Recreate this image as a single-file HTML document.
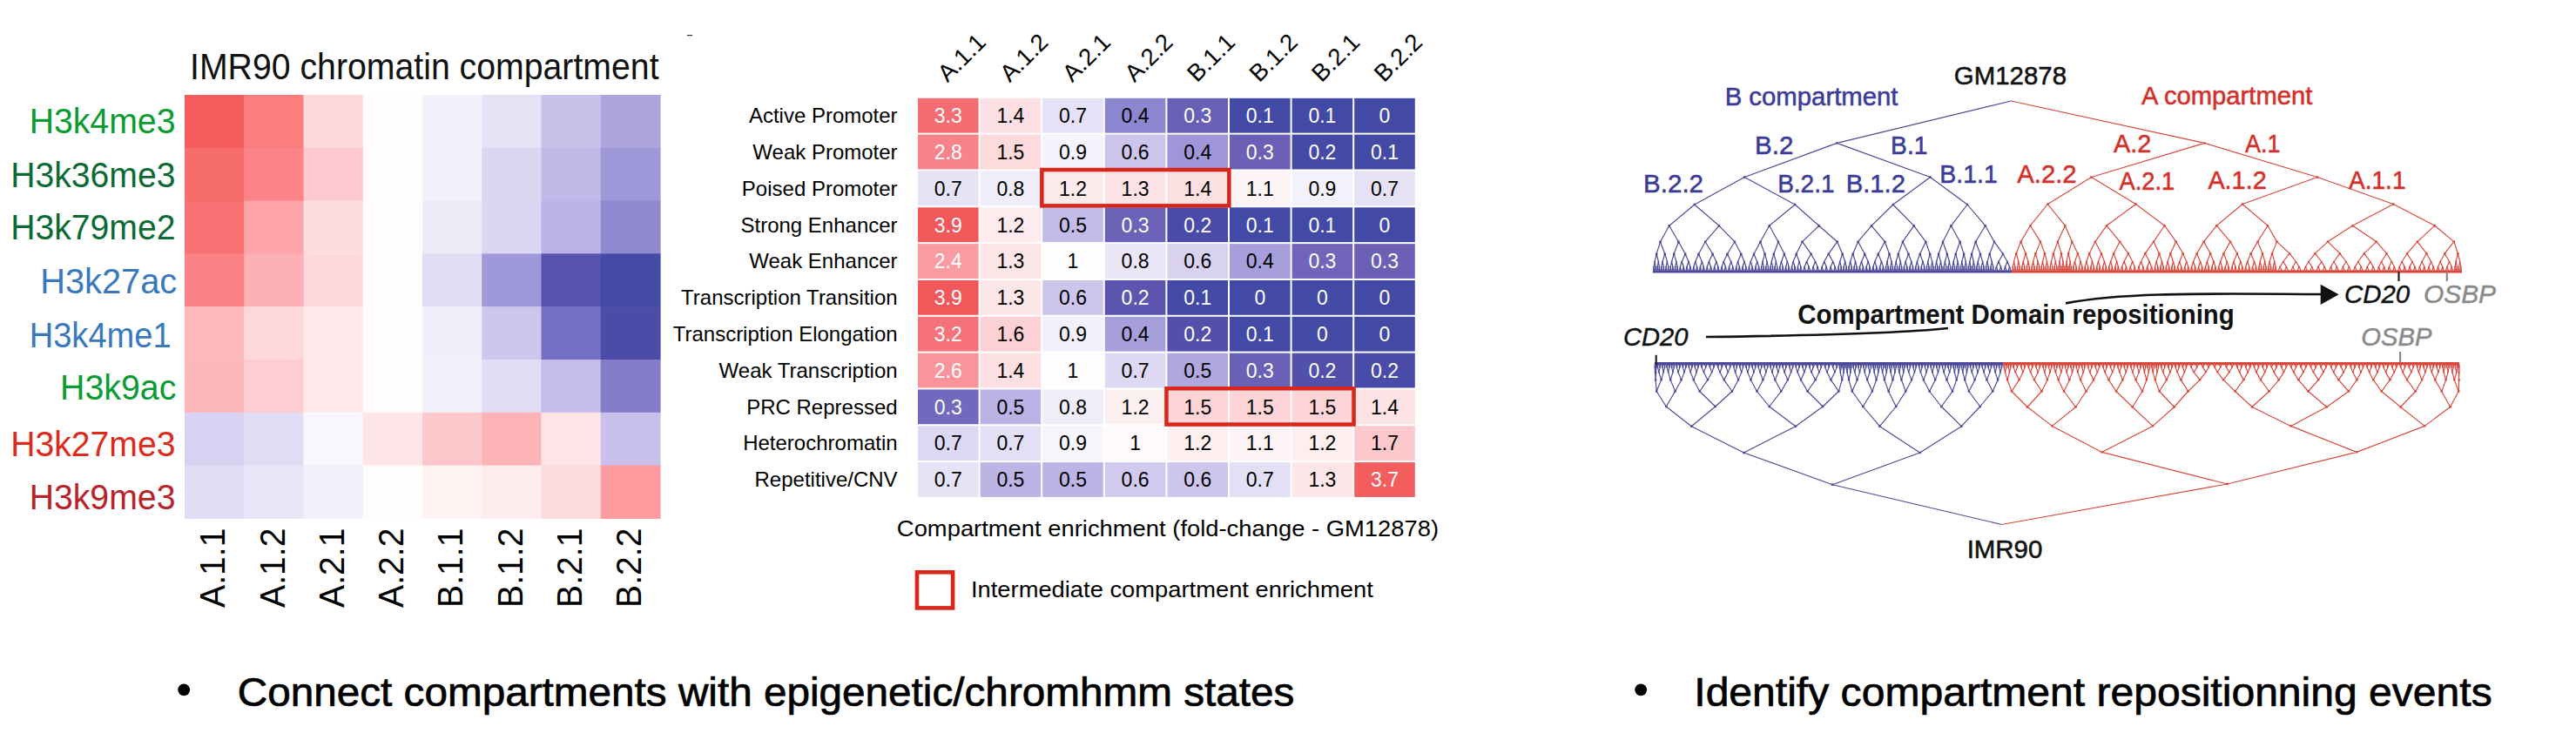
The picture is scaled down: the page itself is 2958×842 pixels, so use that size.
<!DOCTYPE html><html><head><meta charset="utf-8"><style>html,body{margin:0;padding:0;background:#fff;overflow:hidden;}svg{display:block;}text{font-family:"Liberation Sans",sans-serif;}</style></head><body>
<svg width="2958" height="842" viewBox="0 0 2958 842">
<rect x="0" y="0" width="2958" height="842" fill="#ffffff"/>
<rect x="212.00" y="109.00" width="68.85" height="61.40" fill="#f35b5c"/>
<rect x="280.25" y="109.00" width="68.85" height="61.40" fill="#fb7d7e"/>
<rect x="348.50" y="109.00" width="68.85" height="61.40" fill="#fdd9dc"/>
<rect x="416.75" y="109.00" width="68.85" height="61.40" fill="#fffcfd"/>
<rect x="485.00" y="109.00" width="68.85" height="61.40" fill="#f2f0fb"/>
<rect x="553.25" y="109.00" width="68.85" height="61.40" fill="#e6e2f6"/>
<rect x="621.50" y="109.00" width="68.85" height="61.40" fill="#c8c1ea"/>
<rect x="689.75" y="109.00" width="68.85" height="61.40" fill="#aea5de"/>
<rect x="212.00" y="169.80" width="68.85" height="61.40" fill="#f76c6d"/>
<rect x="280.25" y="169.80" width="68.85" height="61.40" fill="#fc8489"/>
<rect x="348.50" y="169.80" width="68.85" height="61.40" fill="#fdc9ce"/>
<rect x="416.75" y="169.80" width="68.85" height="61.40" fill="#fffcfd"/>
<rect x="485.00" y="169.80" width="68.85" height="61.40" fill="#f2f0fb"/>
<rect x="553.25" y="169.80" width="68.85" height="61.40" fill="#dbd6f2"/>
<rect x="621.50" y="169.80" width="68.85" height="61.40" fill="#c0b8e6"/>
<rect x="689.75" y="169.80" width="68.85" height="61.40" fill="#9e97d8"/>
<rect x="212.00" y="230.60" width="68.85" height="61.40" fill="#f77173"/>
<rect x="280.25" y="230.60" width="68.85" height="61.40" fill="#fca4aa"/>
<rect x="348.50" y="230.60" width="68.85" height="61.40" fill="#fddde0"/>
<rect x="416.75" y="230.60" width="68.85" height="61.40" fill="#fffcfd"/>
<rect x="485.00" y="230.60" width="68.85" height="61.40" fill="#edeaf8"/>
<rect x="553.25" y="230.60" width="68.85" height="61.40" fill="#dbd6f2"/>
<rect x="621.50" y="230.60" width="68.85" height="61.40" fill="#bbb3e5"/>
<rect x="689.75" y="230.60" width="68.85" height="61.40" fill="#9089cf"/>
<rect x="212.00" y="291.40" width="68.85" height="61.40" fill="#fc8184"/>
<rect x="280.25" y="291.40" width="68.85" height="61.40" fill="#fdb0b5"/>
<rect x="348.50" y="291.40" width="68.85" height="61.40" fill="#fdd8dc"/>
<rect x="416.75" y="291.40" width="68.85" height="61.40" fill="#fffcfd"/>
<rect x="485.00" y="291.40" width="68.85" height="61.40" fill="#e1ddf5"/>
<rect x="553.25" y="291.40" width="68.85" height="61.40" fill="#a099d9"/>
<rect x="621.50" y="291.40" width="68.85" height="61.40" fill="#5653ad"/>
<rect x="689.75" y="291.40" width="68.85" height="61.40" fill="#434ba6"/>
<rect x="212.00" y="352.20" width="68.85" height="61.40" fill="#feb9bd"/>
<rect x="280.25" y="352.20" width="68.85" height="61.40" fill="#fdd8db"/>
<rect x="348.50" y="352.20" width="68.85" height="61.40" fill="#fee8ea"/>
<rect x="416.75" y="352.20" width="68.85" height="61.40" fill="#fffcfd"/>
<rect x="485.00" y="352.20" width="68.85" height="61.40" fill="#f0eefb"/>
<rect x="553.25" y="352.20" width="68.85" height="61.40" fill="#cdc6ed"/>
<rect x="621.50" y="352.20" width="68.85" height="61.40" fill="#7670c4"/>
<rect x="689.75" y="352.20" width="68.85" height="61.40" fill="#4a4da8"/>
<rect x="212.00" y="413.00" width="68.85" height="61.40" fill="#fdb6b9"/>
<rect x="280.25" y="413.00" width="68.85" height="61.40" fill="#fdcdd1"/>
<rect x="348.50" y="413.00" width="68.85" height="61.40" fill="#fee8ea"/>
<rect x="416.75" y="413.00" width="68.85" height="61.40" fill="#fffcfd"/>
<rect x="485.00" y="413.00" width="68.85" height="61.40" fill="#f2f0fb"/>
<rect x="553.25" y="413.00" width="68.85" height="61.40" fill="#e1ddf5"/>
<rect x="621.50" y="413.00" width="68.85" height="61.40" fill="#c4bcea"/>
<rect x="689.75" y="413.00" width="68.85" height="61.40" fill="#857dc9"/>
<rect x="212.00" y="473.80" width="68.85" height="61.40" fill="#d9d1f1"/>
<rect x="280.25" y="473.80" width="68.85" height="61.40" fill="#e1ddf5"/>
<rect x="348.50" y="473.80" width="68.85" height="61.40" fill="#f8f7fd"/>
<rect x="416.75" y="473.80" width="68.85" height="61.40" fill="#fee6e8"/>
<rect x="485.00" y="473.80" width="68.85" height="61.40" fill="#fdc8cc"/>
<rect x="553.25" y="473.80" width="68.85" height="61.40" fill="#fdb4b7"/>
<rect x="621.50" y="473.80" width="68.85" height="61.40" fill="#fee6e8"/>
<rect x="689.75" y="473.80" width="68.85" height="61.40" fill="#c9c1ec"/>
<rect x="212.00" y="534.60" width="68.85" height="61.40" fill="#e1ddf5"/>
<rect x="280.25" y="534.60" width="68.85" height="61.40" fill="#e9e5f7"/>
<rect x="348.50" y="534.60" width="68.85" height="61.40" fill="#f2f0fb"/>
<rect x="416.75" y="534.60" width="68.85" height="61.40" fill="#fffcfd"/>
<rect x="485.00" y="534.60" width="68.85" height="61.40" fill="#fff3f4"/>
<rect x="553.25" y="534.60" width="68.85" height="61.40" fill="#feecee"/>
<rect x="621.50" y="534.60" width="68.85" height="61.40" fill="#fddcdf"/>
<rect x="689.75" y="534.60" width="68.85" height="61.40" fill="#fd9b9e"/>
<text x="218.04" y="91.20" font-size="42" fill="#111" textLength="538.51" lengthAdjust="spacingAndGlyphs">IMR90 chromatin compartment</text>
<text x="33.65" y="153.10" font-size="40" fill="#0a9b32" textLength="167.82" lengthAdjust="spacingAndGlyphs">H3k4me3</text>
<text x="12.26" y="214.70" font-size="40" fill="#0b6a34" textLength="189.24" lengthAdjust="spacingAndGlyphs">H3k36me3</text>
<text x="12.26" y="275.40" font-size="40" fill="#0b6a34" textLength="189.24" lengthAdjust="spacingAndGlyphs">H3k79me2</text>
<text x="46.22" y="336.50" font-size="40" fill="#3a78be" textLength="156.95" lengthAdjust="spacingAndGlyphs">H3k27ac</text>
<text x="33.73" y="399.00" font-size="40" fill="#3a78be" textLength="162.90" lengthAdjust="spacingAndGlyphs">H3k4me1</text>
<text x="69.05" y="458.90" font-size="40" fill="#0a9b32" textLength="133.26" lengthAdjust="spacingAndGlyphs">H3k9ac</text>
<text x="12.26" y="523.80" font-size="40" fill="#dd2a1a" textLength="189.24" lengthAdjust="spacingAndGlyphs">H3k27me3</text>
<text x="33.65" y="584.70" font-size="40" fill="#b8232a" textLength="167.82" lengthAdjust="spacingAndGlyphs">H3k9me3</text>
<text transform="translate(258.4,606.6) rotate(-90)" font-size="40" fill="#000" text-anchor="end" textLength="91.3" lengthAdjust="spacingAndGlyphs">A.1.1</text>
<text transform="translate(326.7,606.6) rotate(-90)" font-size="40" fill="#000" text-anchor="end" textLength="91.3" lengthAdjust="spacingAndGlyphs">A.1.2</text>
<text transform="translate(394.9,606.6) rotate(-90)" font-size="40" fill="#000" text-anchor="end" textLength="91.3" lengthAdjust="spacingAndGlyphs">A.2.1</text>
<text transform="translate(463.2,606.6) rotate(-90)" font-size="40" fill="#000" text-anchor="end" textLength="91.3" lengthAdjust="spacingAndGlyphs">A.2.2</text>
<text transform="translate(531.4,606.6) rotate(-90)" font-size="40" fill="#000" text-anchor="end" textLength="91.3" lengthAdjust="spacingAndGlyphs">B.1.1</text>
<text transform="translate(599.7,606.6) rotate(-90)" font-size="40" fill="#000" text-anchor="end" textLength="91.3" lengthAdjust="spacingAndGlyphs">B.1.2</text>
<text transform="translate(667.9,606.6) rotate(-90)" font-size="40" fill="#000" text-anchor="end" textLength="91.3" lengthAdjust="spacingAndGlyphs">B.2.1</text>
<text transform="translate(736.2,606.6) rotate(-90)" font-size="40" fill="#000" text-anchor="end" textLength="91.3" lengthAdjust="spacingAndGlyphs">B.2.2</text>
<rect x="1054.00" y="112.80" width="69.60" height="39.83" fill="#f36d72"/>
<rect x="1125.60" y="112.80" width="69.60" height="39.83" fill="#fde0e3"/>
<rect x="1197.20" y="112.80" width="69.60" height="39.83" fill="#e6e1f6"/>
<rect x="1268.80" y="112.80" width="69.60" height="39.83" fill="#8c85cf"/>
<rect x="1340.40" y="112.80" width="69.60" height="39.83" fill="#6a5fb6"/>
<rect x="1412.00" y="112.80" width="69.60" height="39.83" fill="#424aa6"/>
<rect x="1483.60" y="112.80" width="69.60" height="39.83" fill="#424aa6"/>
<rect x="1555.20" y="112.80" width="69.60" height="39.83" fill="#424aa6"/>
<rect x="1054.00" y="154.63" width="69.60" height="39.83" fill="#f6848a"/>
<rect x="1125.60" y="154.63" width="69.60" height="39.83" fill="#fddadc"/>
<rect x="1197.20" y="154.63" width="69.60" height="39.83" fill="#f5f3fb"/>
<rect x="1268.80" y="154.63" width="69.60" height="39.83" fill="#cdc5ec"/>
<rect x="1340.40" y="154.63" width="69.60" height="39.83" fill="#9e96d8"/>
<rect x="1412.00" y="154.63" width="69.60" height="39.83" fill="#6b60b6"/>
<rect x="1483.60" y="154.63" width="69.60" height="39.83" fill="#444aa6"/>
<rect x="1555.20" y="154.63" width="69.60" height="39.83" fill="#424aa6"/>
<rect x="1054.00" y="196.46" width="69.60" height="39.83" fill="#e7e3f5"/>
<rect x="1125.60" y="196.46" width="69.60" height="39.83" fill="#efedf9"/>
<rect x="1197.20" y="196.46" width="69.60" height="39.83" fill="#fdeaec"/>
<rect x="1268.80" y="196.46" width="69.60" height="39.83" fill="#fde3e6"/>
<rect x="1340.40" y="196.46" width="69.60" height="39.83" fill="#fde0e2"/>
<rect x="1412.00" y="196.46" width="69.60" height="39.83" fill="#fdf5f5"/>
<rect x="1483.60" y="196.46" width="69.60" height="39.83" fill="#f3f1fb"/>
<rect x="1555.20" y="196.46" width="69.60" height="39.83" fill="#e6e1f4"/>
<rect x="1054.00" y="238.29" width="69.60" height="39.83" fill="#f25759"/>
<rect x="1125.60" y="238.29" width="69.60" height="39.83" fill="#fdebed"/>
<rect x="1197.20" y="238.29" width="69.60" height="39.83" fill="#c3bbea"/>
<rect x="1268.80" y="238.29" width="69.60" height="39.83" fill="#6c62b8"/>
<rect x="1340.40" y="238.29" width="69.60" height="39.83" fill="#4a4aa8"/>
<rect x="1412.00" y="238.29" width="69.60" height="39.83" fill="#424aa6"/>
<rect x="1483.60" y="238.29" width="69.60" height="39.83" fill="#424aa6"/>
<rect x="1555.20" y="238.29" width="69.60" height="39.83" fill="#424aa6"/>
<rect x="1054.00" y="280.12" width="69.60" height="39.83" fill="#f99ba0"/>
<rect x="1125.60" y="280.12" width="69.60" height="39.83" fill="#fde6e8"/>
<rect x="1197.20" y="280.12" width="69.60" height="39.83" fill="#fdfcfe"/>
<rect x="1268.80" y="280.12" width="69.60" height="39.83" fill="#ebe6f6"/>
<rect x="1340.40" y="280.12" width="69.60" height="39.83" fill="#d9d1f0"/>
<rect x="1412.00" y="280.12" width="69.60" height="39.83" fill="#a69fdc"/>
<rect x="1483.60" y="280.12" width="69.60" height="39.83" fill="#7065bb"/>
<rect x="1555.20" y="280.12" width="69.60" height="39.83" fill="#6b60b6"/>
<rect x="1054.00" y="321.95" width="69.60" height="39.83" fill="#f25759"/>
<rect x="1125.60" y="321.95" width="69.60" height="39.83" fill="#fde6e8"/>
<rect x="1197.20" y="321.95" width="69.60" height="39.83" fill="#cdc5ec"/>
<rect x="1268.80" y="321.95" width="69.60" height="39.83" fill="#5d56b0"/>
<rect x="1340.40" y="321.95" width="69.60" height="39.83" fill="#424aa6"/>
<rect x="1412.00" y="321.95" width="69.60" height="39.83" fill="#424aa6"/>
<rect x="1483.60" y="321.95" width="69.60" height="39.83" fill="#424aa6"/>
<rect x="1555.20" y="321.95" width="69.60" height="39.83" fill="#424aa6"/>
<rect x="1054.00" y="363.78" width="69.60" height="39.83" fill="#f57378"/>
<rect x="1125.60" y="363.78" width="69.60" height="39.83" fill="#fcd0d4"/>
<rect x="1197.20" y="363.78" width="69.60" height="39.83" fill="#f3f0fb"/>
<rect x="1268.80" y="363.78" width="69.60" height="39.83" fill="#a69fdc"/>
<rect x="1340.40" y="363.78" width="69.60" height="39.83" fill="#534fab"/>
<rect x="1412.00" y="363.78" width="69.60" height="39.83" fill="#424aa6"/>
<rect x="1483.60" y="363.78" width="69.60" height="39.83" fill="#424aa6"/>
<rect x="1555.20" y="363.78" width="69.60" height="39.83" fill="#424aa6"/>
<rect x="1054.00" y="405.61" width="69.60" height="39.83" fill="#f8949a"/>
<rect x="1125.60" y="405.61" width="69.60" height="39.83" fill="#fde0e2"/>
<rect x="1197.20" y="405.61" width="69.60" height="39.83" fill="#fefcfd"/>
<rect x="1268.80" y="405.61" width="69.60" height="39.83" fill="#ddd8f3"/>
<rect x="1340.40" y="405.61" width="69.60" height="39.83" fill="#afa7de"/>
<rect x="1412.00" y="405.61" width="69.60" height="39.83" fill="#6a60b6"/>
<rect x="1483.60" y="405.61" width="69.60" height="39.83" fill="#5250ab"/>
<rect x="1555.20" y="405.61" width="69.60" height="39.83" fill="#4a4ba8"/>
<rect x="1054.00" y="447.44" width="69.60" height="39.83" fill="#7268bd"/>
<rect x="1125.60" y="447.44" width="69.60" height="39.83" fill="#bbb2e6"/>
<rect x="1197.20" y="447.44" width="69.60" height="39.83" fill="#efedf9"/>
<rect x="1268.80" y="447.44" width="69.60" height="39.83" fill="#fdf0f1"/>
<rect x="1340.40" y="447.44" width="69.60" height="39.83" fill="#fdd5d9"/>
<rect x="1412.00" y="447.44" width="69.60" height="39.83" fill="#fdd5d9"/>
<rect x="1483.60" y="447.44" width="69.60" height="39.83" fill="#fdd5d9"/>
<rect x="1555.20" y="447.44" width="69.60" height="39.83" fill="#fde3e6"/>
<rect x="1054.00" y="489.27" width="69.60" height="39.83" fill="#ddd8f3"/>
<rect x="1125.60" y="489.27" width="69.60" height="39.83" fill="#e3dff5"/>
<rect x="1197.20" y="489.27" width="69.60" height="39.83" fill="#f6f5fb"/>
<rect x="1268.80" y="489.27" width="69.60" height="39.83" fill="#fef9fa"/>
<rect x="1340.40" y="489.27" width="69.60" height="39.83" fill="#fdeff0"/>
<rect x="1412.00" y="489.27" width="69.60" height="39.83" fill="#fef4f5"/>
<rect x="1483.60" y="489.27" width="69.60" height="39.83" fill="#fdeff0"/>
<rect x="1555.20" y="489.27" width="69.60" height="39.83" fill="#fcc8cc"/>
<rect x="1054.00" y="531.10" width="69.60" height="39.83" fill="#e7e3f6"/>
<rect x="1125.60" y="531.10" width="69.60" height="39.83" fill="#bdb4e6"/>
<rect x="1197.20" y="531.10" width="69.60" height="39.83" fill="#bdb4e6"/>
<rect x="1268.80" y="531.10" width="69.60" height="39.83" fill="#d2caee"/>
<rect x="1340.40" y="531.10" width="69.60" height="39.83" fill="#cfc6ed"/>
<rect x="1412.00" y="531.10" width="69.60" height="39.83" fill="#e3dff5"/>
<rect x="1483.60" y="531.10" width="69.60" height="39.83" fill="#fde6e8"/>
<rect x="1555.20" y="531.10" width="69.60" height="39.83" fill="#f45d5e"/>
<text x="1088.80" y="141.02" font-size="23" fill="#fff" text-anchor="middle">3.3</text>
<text x="1160.40" y="141.02" font-size="23" fill="#000" text-anchor="middle">1.4</text>
<text x="1232.00" y="141.02" font-size="23" fill="#000" text-anchor="middle">0.7</text>
<text x="1303.60" y="141.02" font-size="23" fill="#000" text-anchor="middle">0.4</text>
<text x="1375.20" y="141.02" font-size="23" fill="#fff" text-anchor="middle">0.3</text>
<text x="1446.80" y="141.02" font-size="23" fill="#fff" text-anchor="middle">0.1</text>
<text x="1518.40" y="141.02" font-size="23" fill="#fff" text-anchor="middle">0.1</text>
<text x="1590.00" y="141.02" font-size="23" fill="#fff" text-anchor="middle">0</text>
<text x="1088.80" y="182.84" font-size="23" fill="#fff" text-anchor="middle">2.8</text>
<text x="1160.40" y="182.84" font-size="23" fill="#000" text-anchor="middle">1.5</text>
<text x="1232.00" y="182.84" font-size="23" fill="#000" text-anchor="middle">0.9</text>
<text x="1303.60" y="182.84" font-size="23" fill="#000" text-anchor="middle">0.6</text>
<text x="1375.20" y="182.84" font-size="23" fill="#000" text-anchor="middle">0.4</text>
<text x="1446.80" y="182.84" font-size="23" fill="#fff" text-anchor="middle">0.3</text>
<text x="1518.40" y="182.84" font-size="23" fill="#fff" text-anchor="middle">0.2</text>
<text x="1590.00" y="182.84" font-size="23" fill="#fff" text-anchor="middle">0.1</text>
<text x="1088.80" y="224.67" font-size="23" fill="#000" text-anchor="middle">0.7</text>
<text x="1160.40" y="224.67" font-size="23" fill="#000" text-anchor="middle">0.8</text>
<text x="1232.00" y="224.67" font-size="23" fill="#000" text-anchor="middle">1.2</text>
<text x="1303.60" y="224.67" font-size="23" fill="#000" text-anchor="middle">1.3</text>
<text x="1375.20" y="224.67" font-size="23" fill="#000" text-anchor="middle">1.4</text>
<text x="1446.80" y="224.67" font-size="23" fill="#000" text-anchor="middle">1.1</text>
<text x="1518.40" y="224.67" font-size="23" fill="#000" text-anchor="middle">0.9</text>
<text x="1590.00" y="224.67" font-size="23" fill="#000" text-anchor="middle">0.7</text>
<text x="1088.80" y="266.50" font-size="23" fill="#fff" text-anchor="middle">3.9</text>
<text x="1160.40" y="266.50" font-size="23" fill="#000" text-anchor="middle">1.2</text>
<text x="1232.00" y="266.50" font-size="23" fill="#000" text-anchor="middle">0.5</text>
<text x="1303.60" y="266.50" font-size="23" fill="#fff" text-anchor="middle">0.3</text>
<text x="1375.20" y="266.50" font-size="23" fill="#fff" text-anchor="middle">0.2</text>
<text x="1446.80" y="266.50" font-size="23" fill="#fff" text-anchor="middle">0.1</text>
<text x="1518.40" y="266.50" font-size="23" fill="#fff" text-anchor="middle">0.1</text>
<text x="1590.00" y="266.50" font-size="23" fill="#fff" text-anchor="middle">0</text>
<text x="1088.80" y="308.34" font-size="23" fill="#fff" text-anchor="middle">2.4</text>
<text x="1160.40" y="308.34" font-size="23" fill="#000" text-anchor="middle">1.3</text>
<text x="1232.00" y="308.34" font-size="23" fill="#000" text-anchor="middle">1</text>
<text x="1303.60" y="308.34" font-size="23" fill="#000" text-anchor="middle">0.8</text>
<text x="1375.20" y="308.34" font-size="23" fill="#000" text-anchor="middle">0.6</text>
<text x="1446.80" y="308.34" font-size="23" fill="#000" text-anchor="middle">0.4</text>
<text x="1518.40" y="308.34" font-size="23" fill="#fff" text-anchor="middle">0.3</text>
<text x="1590.00" y="308.34" font-size="23" fill="#fff" text-anchor="middle">0.3</text>
<text x="1088.80" y="350.17" font-size="23" fill="#fff" text-anchor="middle">3.9</text>
<text x="1160.40" y="350.17" font-size="23" fill="#000" text-anchor="middle">1.3</text>
<text x="1232.00" y="350.17" font-size="23" fill="#000" text-anchor="middle">0.6</text>
<text x="1303.60" y="350.17" font-size="23" fill="#fff" text-anchor="middle">0.2</text>
<text x="1375.20" y="350.17" font-size="23" fill="#fff" text-anchor="middle">0.1</text>
<text x="1446.80" y="350.17" font-size="23" fill="#fff" text-anchor="middle">0</text>
<text x="1518.40" y="350.17" font-size="23" fill="#fff" text-anchor="middle">0</text>
<text x="1590.00" y="350.17" font-size="23" fill="#fff" text-anchor="middle">0</text>
<text x="1088.80" y="392.00" font-size="23" fill="#fff" text-anchor="middle">3.2</text>
<text x="1160.40" y="392.00" font-size="23" fill="#000" text-anchor="middle">1.6</text>
<text x="1232.00" y="392.00" font-size="23" fill="#000" text-anchor="middle">0.9</text>
<text x="1303.60" y="392.00" font-size="23" fill="#000" text-anchor="middle">0.4</text>
<text x="1375.20" y="392.00" font-size="23" fill="#fff" text-anchor="middle">0.2</text>
<text x="1446.80" y="392.00" font-size="23" fill="#fff" text-anchor="middle">0.1</text>
<text x="1518.40" y="392.00" font-size="23" fill="#fff" text-anchor="middle">0</text>
<text x="1590.00" y="392.00" font-size="23" fill="#fff" text-anchor="middle">0</text>
<text x="1088.80" y="433.83" font-size="23" fill="#fff" text-anchor="middle">2.6</text>
<text x="1160.40" y="433.83" font-size="23" fill="#000" text-anchor="middle">1.4</text>
<text x="1232.00" y="433.83" font-size="23" fill="#000" text-anchor="middle">1</text>
<text x="1303.60" y="433.83" font-size="23" fill="#000" text-anchor="middle">0.7</text>
<text x="1375.20" y="433.83" font-size="23" fill="#000" text-anchor="middle">0.5</text>
<text x="1446.80" y="433.83" font-size="23" fill="#fff" text-anchor="middle">0.3</text>
<text x="1518.40" y="433.83" font-size="23" fill="#fff" text-anchor="middle">0.2</text>
<text x="1590.00" y="433.83" font-size="23" fill="#fff" text-anchor="middle">0.2</text>
<text x="1088.80" y="475.66" font-size="23" fill="#fff" text-anchor="middle">0.3</text>
<text x="1160.40" y="475.66" font-size="23" fill="#000" text-anchor="middle">0.5</text>
<text x="1232.00" y="475.66" font-size="23" fill="#000" text-anchor="middle">0.8</text>
<text x="1303.60" y="475.66" font-size="23" fill="#000" text-anchor="middle">1.2</text>
<text x="1375.20" y="475.66" font-size="23" fill="#000" text-anchor="middle">1.5</text>
<text x="1446.80" y="475.66" font-size="23" fill="#000" text-anchor="middle">1.5</text>
<text x="1518.40" y="475.66" font-size="23" fill="#000" text-anchor="middle">1.5</text>
<text x="1590.00" y="475.66" font-size="23" fill="#000" text-anchor="middle">1.4</text>
<text x="1088.80" y="517.49" font-size="23" fill="#000" text-anchor="middle">0.7</text>
<text x="1160.40" y="517.49" font-size="23" fill="#000" text-anchor="middle">0.7</text>
<text x="1232.00" y="517.49" font-size="23" fill="#000" text-anchor="middle">0.9</text>
<text x="1303.60" y="517.49" font-size="23" fill="#000" text-anchor="middle">1</text>
<text x="1375.20" y="517.49" font-size="23" fill="#000" text-anchor="middle">1.2</text>
<text x="1446.80" y="517.49" font-size="23" fill="#000" text-anchor="middle">1.1</text>
<text x="1518.40" y="517.49" font-size="23" fill="#000" text-anchor="middle">1.2</text>
<text x="1590.00" y="517.49" font-size="23" fill="#000" text-anchor="middle">1.7</text>
<text x="1088.80" y="559.31" font-size="23" fill="#000" text-anchor="middle">0.7</text>
<text x="1160.40" y="559.31" font-size="23" fill="#000" text-anchor="middle">0.5</text>
<text x="1232.00" y="559.31" font-size="23" fill="#000" text-anchor="middle">0.5</text>
<text x="1303.60" y="559.31" font-size="23" fill="#000" text-anchor="middle">0.6</text>
<text x="1375.20" y="559.31" font-size="23" fill="#000" text-anchor="middle">0.6</text>
<text x="1446.80" y="559.31" font-size="23" fill="#000" text-anchor="middle">0.7</text>
<text x="1518.40" y="559.31" font-size="23" fill="#000" text-anchor="middle">1.3</text>
<text x="1590.00" y="559.31" font-size="23" fill="#fff" text-anchor="middle">3.7</text>
<text x="1030.60" y="141.02" font-size="24" fill="#000" text-anchor="end">Active Promoter</text>
<text x="1030.60" y="182.84" font-size="24" fill="#000" text-anchor="end">Weak Promoter</text>
<text x="1030.60" y="224.67" font-size="24" fill="#000" text-anchor="end">Poised Promoter</text>
<text x="1030.60" y="266.50" font-size="24" fill="#000" text-anchor="end">Strong Enhancer</text>
<text x="1030.60" y="308.34" font-size="24" fill="#000" text-anchor="end">Weak Enhancer</text>
<text x="1030.60" y="350.17" font-size="24" fill="#000" text-anchor="end">Transcription Transition</text>
<text x="1030.60" y="392.00" font-size="24" fill="#000" text-anchor="end">Transcription Elongation</text>
<text x="1030.60" y="433.83" font-size="24" fill="#000" text-anchor="end">Weak Transcription</text>
<text x="1030.60" y="475.66" font-size="24" fill="#000" text-anchor="end">PRC Repressed</text>
<text x="1030.60" y="517.49" font-size="24" fill="#000" text-anchor="end">Heterochromatin</text>
<text x="1030.60" y="559.31" font-size="24" fill="#000" text-anchor="end">Repetitive/CNV</text>
<text transform="translate(1088.0,95.6) rotate(-45)" font-size="27.6" fill="#000">A.1.1</text>
<text transform="translate(1159.6,95.6) rotate(-45)" font-size="27.6" fill="#000">A.1.2</text>
<text transform="translate(1231.2,95.6) rotate(-45)" font-size="27.6" fill="#000">A.2.1</text>
<text transform="translate(1302.8,95.6) rotate(-45)" font-size="27.6" fill="#000">A.2.2</text>
<text transform="translate(1374.4,95.6) rotate(-45)" font-size="27.6" fill="#000">B.1.1</text>
<text transform="translate(1446.0,95.6) rotate(-45)" font-size="27.6" fill="#000">B.1.2</text>
<text transform="translate(1517.6,95.6) rotate(-45)" font-size="27.6" fill="#000">B.2.1</text>
<text transform="translate(1589.2,95.6) rotate(-45)" font-size="27.6" fill="#000">B.2.2</text>
<rect x="1196.35" y="195.05" width="215" height="41.3" fill="none" stroke="#d9261b" stroke-width="4.5"/>
<rect x="1339.45" y="446.25" width="215.1" height="41.3" fill="none" stroke="#d9261b" stroke-width="4.5"/>
<text x="1029.89" y="616.00" font-size="25.5" fill="#000" textLength="622.18" lengthAdjust="spacingAndGlyphs">Compartment enrichment (fold-change - GM12878)</text>
<rect x="1053" y="657.3" width="41.1" height="41.1" fill="none" stroke="#d9261b" stroke-width="4.6"/>
<text x="1114.94" y="685.80" font-size="26.5" fill="#000" textLength="461.82" lengthAdjust="spacingAndGlyphs">Intermediate compartment enrichment</text>
<rect x="789" y="40" width="6" height="1.2" fill="#333"/>
<defs><filter id="soft" x="-2%" y="-2%" width="104%" height="104%"><feGaussianBlur stdDeviation="0.35"/></filter></defs>
<g filter="url(#soft)">
<path d="M2309.4 116.0L2109.3 164.4M2109.3 164.4L2003.2 203.5M2109.3 164.4L2216.5 203.5M2003.2 203.5L1945.8 235.0M2003.2 203.5L2061.2 235.0M2216.5 203.5L2173.8 235.0M2216.5 203.5L2259.1 235.0M1945.8 235.0L1916.7 259.3M1945.8 235.0L1974.0 259.3M2061.2 235.0L2031.7 259.3M2061.2 235.0L2088.7 259.3M2173.8 235.0L2149.0 259.3M2173.8 235.0L2197.7 259.3M2259.1 235.0L2240.4 259.3M2259.1 235.0L2279.7 259.3M1916.7 259.3L1906.5 277.7M1916.7 259.3L1927.5 277.7M1974.0 259.3L1958.2 277.7M1974.0 259.3L1991.9 277.7M2031.7 259.3L2021.4 277.7M2031.7 259.3L2042.0 277.7M2088.7 259.3L2069.6 277.7M2088.7 259.3L2109.7 277.7M2149.0 259.3L2133.6 277.7M2149.0 259.3L2164.4 277.7M2197.7 259.3L2184.9 277.7M2197.7 259.3L2211.3 277.7M2240.4 259.3L2231.0 277.7M2240.4 259.3L2250.6 277.7M2279.7 259.3L2268.6 277.7M2279.7 259.3L2290.0 277.7M1906.5 277.7L1902.2 291.7M1906.5 277.7L1911.8 291.7M1927.5 277.7L1922.2 291.7M1927.5 277.7L1935.2 291.7M1958.2 277.7L1950.5 291.7M1958.2 277.7L1966.6 291.7M1991.9 277.7L1983.5 291.7M1991.9 277.7L1999.3 291.7M2021.4 277.7L2014.0 291.7M2021.4 277.7L2026.6 291.7M2042.0 277.7L2036.8 291.7M2042.0 277.7L2048.9 291.7M2069.6 277.7L2062.7 291.7M2069.6 277.7L2079.6 291.7M2109.7 277.7L2099.7 291.7M2109.7 277.7L2115.7 291.7M2133.6 277.7L2127.6 291.7M2133.6 277.7L2141.3 291.7M2164.4 277.7L2156.7 291.7M2164.4 277.7L2169.5 291.7M2184.9 277.7L2179.8 291.7M2184.9 277.7L2191.5 291.7M2211.3 277.7L2204.7 291.7M2211.3 277.7L2216.2 291.7M2231.0 277.7L2226.1 291.7M2231.0 277.7L2235.9 291.7M2250.6 277.7L2245.7 291.7M2250.6 277.7L2255.1 291.7M2268.6 277.7L2264.1 291.7M2268.6 277.7L2273.9 291.7M2290.0 277.7L2284.7 291.7M2290.0 277.7L2300.0 291.7M1902.2 291.7L1900.1 300.5M1902.2 291.7L1904.4 300.5M1911.8 291.7L1909.1 300.5M1911.8 291.7L1914.4 300.5M1922.2 291.7L1919.6 300.5M1922.2 291.7L1924.9 300.5M1935.2 291.7L1931.3 300.5M1935.2 291.7L1939.0 300.5M1950.5 291.7L1946.7 300.5M1950.5 291.7L1954.4 300.5M1966.6 291.7L1962.4 300.5M1966.6 291.7L1970.8 300.5M1983.5 291.7L1979.3 300.5M1983.5 291.7L1987.7 300.5M1999.3 291.7L1995.6 300.5M1999.3 291.7L2003.0 300.5M2014.0 291.7L2010.3 300.5M2014.0 291.7L2017.7 300.5M2026.6 291.7L2024.0 300.5M2026.6 291.7L2029.1 300.5M2036.8 291.7L2034.3 300.5M2036.8 291.7L2039.4 300.5M2048.9 291.7L2045.5 300.5M2048.9 291.7L2052.4 300.5M2062.7 291.7L2059.2 300.5M2062.7 291.7L2066.1 300.5M2079.6 291.7L2074.6 300.5M2079.6 291.7L2084.6 300.5M2099.7 291.7L2094.7 300.5M2099.7 291.7L2104.7 300.5M2115.7 291.7L2112.7 300.5M2115.7 291.7L2118.7 300.5M2127.6 291.7L2124.6 300.5M2127.6 291.7L2130.6 300.5M2141.3 291.7L2137.5 300.5M2141.3 291.7L2145.2 300.5M2156.7 291.7L2152.8 300.5M2156.7 291.7L2160.5 300.5M2169.5 291.7L2167.0 300.5M2169.5 291.7L2172.1 300.5M2179.8 291.7L2177.2 300.5M2179.8 291.7L2182.3 300.5M2191.5 291.7L2188.2 300.5M2191.5 291.7L2194.8 300.5M2204.7 291.7L2201.4 300.5M2204.7 291.7L2208.0 300.5M2216.2 291.7L2213.8 300.5M2216.2 291.7L2218.7 300.5M2226.1 291.7L2223.6 300.5M2226.1 291.7L2228.5 300.5M2235.9 291.7L2233.4 300.5M2235.9 291.7L2238.4 300.5M2245.7 291.7L2243.2 300.5M2245.7 291.7L2248.1 300.5M2255.1 291.7L2252.8 300.5M2255.1 291.7L2257.3 300.5M2264.1 291.7L2261.8 300.5M2264.1 291.7L2266.3 300.5M2273.9 291.7L2271.3 300.5M2273.9 291.7L2276.6 300.5M2284.7 291.7L2282.0 300.5M2284.7 291.7L2287.3 300.5M2300.0 291.7L2295.0 300.5M2300.0 291.7L2305.0 300.5M1900.1 300.5L1899.1 306.5M1900.1 300.5L1901.2 306.5M1904.4 300.5L1903.3 306.5M1904.4 300.5L1905.4 306.5M1909.1 300.5L1907.8 306.5M1909.1 300.5L1910.4 306.5M1914.4 300.5L1913.1 306.5M1914.4 300.5L1915.7 306.5M1919.6 300.5L1918.3 306.5M1919.6 300.5L1920.9 306.5M1924.9 300.5L1923.6 306.5M1924.9 300.5L1926.2 306.5M1931.3 300.5L1929.4 306.5M1931.3 300.5L1933.3 306.5M1939.0 300.5L1937.1 306.5M1939.0 300.5L1940.9 306.5M1946.7 300.5L1944.8 306.5M1946.7 300.5L1948.6 306.5M1954.4 300.5L1952.4 306.5M1954.4 300.5L1956.3 306.5M1962.4 300.5L1960.3 306.5M1962.4 300.5L1964.5 306.5M1970.8 300.5L1968.7 306.5M1970.8 300.5L1972.9 306.5M1979.3 300.5L1977.2 306.5M1979.3 300.5L1981.4 306.5M1987.7 300.5L1985.6 306.5M1987.7 300.5L1989.8 306.5M1995.6 300.5L1993.7 306.5M1995.6 300.5L1997.4 306.5M2003.0 300.5L2001.1 306.5M2003.0 300.5L2004.8 306.5M2010.3 300.5L2008.5 306.5M2010.3 300.5L2012.2 306.5M2017.7 300.5L2015.9 306.5M2017.7 300.5L2019.6 306.5M2024.0 300.5L2022.7 306.5M2024.0 300.5L2025.3 306.5M2029.1 300.5L2027.8 306.5M2029.1 300.5L2030.4 306.5M2034.3 300.5L2033.0 306.5M2034.3 300.5L2035.6 306.5M2039.4 300.5L2038.1 306.5M2039.4 300.5L2040.7 306.5M2045.5 300.5L2043.7 306.5M2045.5 300.5L2047.2 306.5M2052.4 300.5L2050.6 306.5M2052.4 300.5L2054.1 306.5M2059.2 300.5L2057.5 306.5M2059.2 300.5L2061.0 306.5M2066.1 300.5L2064.4 306.5M2066.1 300.5L2067.9 306.5M2074.6 300.5L2072.1 306.5M2074.6 300.5L2077.1 306.5M2084.6 300.5L2082.1 306.5M2084.6 300.5L2087.1 306.5M2094.7 300.5L2092.2 306.5M2094.7 300.5L2097.2 306.5M2104.7 300.5L2102.2 306.5M2104.7 300.5L2107.2 306.5M2112.7 300.5L2111.2 306.5M2112.7 300.5L2114.2 306.5M2118.7 300.5L2117.2 306.5M2118.7 300.5L2120.2 306.5M2124.6 300.5L2123.1 306.5M2124.6 300.5L2126.1 306.5M2130.6 300.5L2129.1 306.5M2130.6 300.5L2132.1 306.5M2137.5 300.5L2135.5 306.5M2137.5 300.5L2139.4 306.5M2145.2 300.5L2143.2 306.5M2145.2 300.5L2147.1 306.5M2152.8 300.5L2150.9 306.5M2152.8 300.5L2154.8 306.5M2160.5 300.5L2158.6 306.5M2160.5 300.5L2162.5 306.5M2167.0 300.5L2165.7 306.5M2167.0 300.5L2168.2 306.5M2172.1 300.5L2170.8 306.5M2172.1 300.5L2173.4 306.5M2177.2 300.5L2175.9 306.5M2177.2 300.5L2178.5 306.5M2182.3 300.5L2181.1 306.5M2182.3 300.5L2183.6 306.5M2188.2 300.5L2186.5 306.5M2188.2 300.5L2189.8 306.5M2194.8 300.5L2193.2 306.5M2194.8 300.5L2196.5 306.5M2201.4 300.5L2199.8 306.5M2201.4 300.5L2203.1 306.5M2208.0 300.5L2206.3 306.5M2208.0 300.5L2209.7 306.5M2213.8 300.5L2212.5 306.5M2213.8 300.5L2215.0 306.5M2218.7 300.5L2217.5 306.5M2218.7 300.5L2219.9 306.5M2223.6 300.5L2222.4 306.5M2223.6 300.5L2224.8 306.5M2228.5 300.5L2227.3 306.5M2228.5 300.5L2229.8 306.5M2233.4 300.5L2232.2 306.5M2233.4 300.5L2234.7 306.5M2238.4 300.5L2237.1 306.5M2238.4 300.5L2239.6 306.5M2243.2 300.5L2242.0 306.5M2243.2 300.5L2244.5 306.5M2248.1 300.5L2246.9 306.5M2248.1 300.5L2249.4 306.5M2252.8 300.5L2251.7 306.5M2252.8 300.5L2254.0 306.5M2257.3 300.5L2256.2 306.5M2257.3 300.5L2258.5 306.5M2261.8 300.5L2260.7 306.5M2261.8 300.5L2263.0 306.5M2266.3 300.5L2265.2 306.5M2266.3 300.5L2267.5 306.5M2271.3 300.5L2269.9 306.5M2271.3 300.5L2272.6 306.5M2276.6 300.5L2275.3 306.5M2276.6 300.5L2278.0 306.5M2282.0 300.5L2280.6 306.5M2282.0 300.5L2283.3 306.5M2287.3 300.5L2286.0 306.5M2287.3 300.5L2288.7 306.5M2295.0 300.5L2292.5 306.5M2295.0 300.5L2297.5 306.5M2305.0 300.5L2302.5 306.5M2305.0 300.5L2307.5 306.5M1899.1 306.5L1898.5 310.5M1899.1 306.5L1899.6 310.5M1901.2 306.5L1900.7 310.5M1901.2 306.5L1901.7 310.5M1903.3 306.5L1902.8 310.5M1903.3 306.5L1903.8 310.5M1905.4 306.5L1904.9 310.5M1905.4 306.5L1906.0 310.5M1907.8 306.5L1907.2 310.5M1907.8 306.5L1908.5 310.5M1910.4 306.5L1909.8 310.5M1910.4 306.5L1911.1 310.5M1913.1 306.5L1912.4 310.5M1913.1 306.5L1913.7 310.5M1915.7 306.5L1915.0 310.5M1915.7 306.5L1916.3 310.5M1918.3 306.5L1917.7 310.5M1918.3 306.5L1919.0 310.5M1920.9 306.5L1920.3 310.5M1920.9 306.5L1921.6 310.5M1923.6 306.5L1922.9 310.5M1923.6 306.5L1924.2 310.5M1926.2 306.5L1925.5 310.5M1926.2 306.5L1926.8 310.5M1929.4 306.5L1928.5 310.5M1929.4 306.5L1930.4 310.5M1933.3 306.5L1932.3 310.5M1933.3 306.5L1934.2 310.5M1937.1 306.5L1936.1 310.5M1937.1 306.5L1938.1 310.5M1940.9 306.5L1940.0 310.5M1940.9 306.5L1941.9 310.5M1944.8 306.5L1943.8 310.5M1944.8 306.5L1945.7 310.5M1948.6 306.5L1947.6 310.5M1948.6 306.5L1949.6 310.5M1952.4 306.5L1951.5 310.5M1952.4 306.5L1953.4 310.5M1956.3 306.5L1955.3 310.5M1956.3 306.5L1957.2 310.5M1960.3 306.5L1959.3 310.5M1960.3 306.5L1961.4 310.5M1964.5 306.5L1963.5 310.5M1964.5 306.5L1965.6 310.5M1968.7 306.5L1967.7 310.5M1968.7 306.5L1969.8 310.5M1972.9 306.5L1971.9 310.5M1972.9 306.5L1974.0 310.5M1977.2 306.5L1976.1 310.5M1977.2 306.5L1978.2 310.5M1981.4 306.5L1980.3 310.5M1981.4 306.5L1982.4 310.5M1985.6 306.5L1984.5 310.5M1985.6 306.5L1986.6 310.5M1989.8 306.5L1988.7 310.5M1989.8 306.5L1990.8 310.5M1993.7 306.5L1992.8 310.5M1993.7 306.5L1994.7 310.5M1997.4 306.5L1996.5 310.5M1997.4 306.5L1998.4 310.5M2001.1 306.5L2000.2 310.5M2001.1 306.5L2002.0 310.5M2004.8 306.5L2003.9 310.5M2004.8 306.5L2005.7 310.5M2008.5 306.5L2007.6 310.5M2008.5 306.5L2009.4 310.5M2012.2 306.5L2011.3 310.5M2012.2 306.5L2013.1 310.5M2015.9 306.5L2014.9 310.5M2015.9 306.5L2016.8 310.5M2019.6 306.5L2018.6 310.5M2019.6 306.5L2020.5 310.5M2022.7 306.5L2022.0 310.5M2022.7 306.5L2023.3 310.5M2025.3 306.5L2024.6 310.5M2025.3 306.5L2025.9 310.5M2027.8 306.5L2027.2 310.5M2027.8 306.5L2028.5 310.5M2030.4 306.5L2029.8 310.5M2030.4 306.5L2031.1 310.5M2033.0 306.5L2032.3 310.5M2033.0 306.5L2033.6 310.5M2035.6 306.5L2034.9 310.5M2035.6 306.5L2036.2 310.5M2038.1 306.5L2037.5 310.5M2038.1 306.5L2038.8 310.5M2040.7 306.5L2040.1 310.5M2040.7 306.5L2041.4 310.5M2043.7 306.5L2042.9 310.5M2043.7 306.5L2044.6 310.5M2047.2 306.5L2046.3 310.5M2047.2 306.5L2048.0 310.5M2050.6 306.5L2049.8 310.5M2050.6 306.5L2051.5 310.5M2054.1 306.5L2053.2 310.5M2054.1 306.5L2054.9 310.5M2057.5 306.5L2056.7 310.5M2057.5 306.5L2058.4 310.5M2061.0 306.5L2060.1 310.5M2061.0 306.5L2061.8 310.5M2064.4 306.5L2063.6 310.5M2064.4 306.5L2065.3 310.5M2067.9 306.5L2067.0 310.5M2067.9 306.5L2068.7 310.5M2072.1 306.5L2070.9 310.5M2072.1 306.5L2073.4 310.5M2077.1 306.5L2075.9 310.5M2077.1 306.5L2078.4 310.5M2082.1 306.5L2080.9 310.5M2082.1 306.5L2083.4 310.5M2087.1 306.5L2085.9 310.5M2087.1 306.5L2088.4 310.5M2092.2 306.5L2090.9 310.5M2092.2 306.5L2093.4 310.5M2097.2 306.5L2095.9 310.5M2097.2 306.5L2098.4 310.5M2102.2 306.5L2100.9 310.5M2102.2 306.5L2103.4 310.5M2107.2 306.5L2105.9 310.5M2107.2 306.5L2108.4 310.5M2111.2 306.5L2110.4 310.5M2111.2 306.5L2111.9 310.5M2114.2 306.5L2113.4 310.5M2114.2 306.5L2114.9 310.5M2117.2 306.5L2116.4 310.5M2117.2 306.5L2117.9 310.5M2120.2 306.5L2119.4 310.5M2120.2 306.5L2120.9 310.5M2123.1 306.5L2122.4 310.5M2123.1 306.5L2123.9 310.5M2126.1 306.5L2125.4 310.5M2126.1 306.5L2126.9 310.5M2129.1 306.5L2128.4 310.5M2129.1 306.5L2129.9 310.5M2132.1 306.5L2131.4 310.5M2132.1 306.5L2132.9 310.5M2135.5 306.5L2134.6 310.5M2135.5 306.5L2136.5 310.5M2139.4 306.5L2138.4 310.5M2139.4 306.5L2140.3 310.5M2143.2 306.5L2142.3 310.5M2143.2 306.5L2144.2 310.5M2147.1 306.5L2146.1 310.5M2147.1 306.5L2148.0 310.5M2150.9 306.5L2150.0 310.5M2150.9 306.5L2151.9 310.5M2154.8 306.5L2153.8 310.5M2154.8 306.5L2155.7 310.5M2158.6 306.5L2157.7 310.5M2158.6 306.5L2159.6 310.5M2162.5 306.5L2161.5 310.5M2162.5 306.5L2163.4 310.5M2165.7 306.5L2165.0 310.5M2165.7 306.5L2166.3 310.5M2168.2 306.5L2167.6 310.5M2168.2 306.5L2168.9 310.5M2170.8 306.5L2170.2 310.5M2170.8 306.5L2171.4 310.5M2173.4 306.5L2172.7 310.5M2173.4 306.5L2174.0 310.5M2175.9 306.5L2175.3 310.5M2175.9 306.5L2176.6 310.5M2178.5 306.5L2177.9 310.5M2178.5 306.5L2179.1 310.5M2181.1 306.5L2180.4 310.5M2181.1 306.5L2181.7 310.5M2183.6 306.5L2183.0 310.5M2183.6 306.5L2184.3 310.5M2186.5 306.5L2185.7 310.5M2186.5 306.5L2187.4 310.5M2189.8 306.5L2189.0 310.5M2189.8 306.5L2190.7 310.5M2193.2 306.5L2192.3 310.5M2193.2 306.5L2194.0 310.5M2196.5 306.5L2195.6 310.5M2196.5 306.5L2197.3 310.5M2199.8 306.5L2198.9 310.5M2199.8 306.5L2200.6 310.5M2203.1 306.5L2202.2 310.5M2203.1 306.5L2203.9 310.5M2206.3 306.5L2205.5 310.5M2206.3 306.5L2207.2 310.5M2209.7 306.5L2208.8 310.5M2209.7 306.5L2210.5 310.5M2212.5 306.5L2211.9 310.5M2212.5 306.5L2213.1 310.5M2215.0 306.5L2214.4 310.5M2215.0 306.5L2215.6 310.5M2217.5 306.5L2216.8 310.5M2217.5 306.5L2218.1 310.5M2219.9 306.5L2219.3 310.5M2219.9 306.5L2220.5 310.5M2222.4 306.5L2221.8 310.5M2222.4 306.5L2223.0 310.5M2224.8 306.5L2224.2 310.5M2224.8 306.5L2225.5 310.5M2227.3 306.5L2226.7 310.5M2227.3 306.5L2227.9 310.5M2229.8 306.5L2229.2 310.5M2229.8 306.5L2230.4 310.5M2232.2 306.5L2231.6 310.5M2232.2 306.5L2232.8 310.5M2234.7 306.5L2234.1 310.5M2234.7 306.5L2235.3 310.5M2237.1 306.5L2236.5 310.5M2237.1 306.5L2237.7 310.5M2239.6 306.5L2239.0 310.5M2239.6 306.5L2240.2 310.5M2242.0 306.5L2241.4 310.5M2242.0 306.5L2242.6 310.5M2244.5 306.5L2243.9 310.5M2244.5 306.5L2245.1 310.5M2246.9 306.5L2246.3 310.5M2246.9 306.5L2247.5 310.5M2249.4 306.5L2248.8 310.5M2249.4 306.5L2250.0 310.5M2251.7 306.5L2251.2 310.5M2251.7 306.5L2252.3 310.5M2254.0 306.5L2253.4 310.5M2254.0 306.5L2254.5 310.5M2256.2 306.5L2255.7 310.5M2256.2 306.5L2256.8 310.5M2258.5 306.5L2257.9 310.5M2258.5 306.5L2259.0 310.5M2260.7 306.5L2260.2 310.5M2260.7 306.5L2261.3 310.5M2263.0 306.5L2262.4 310.5M2263.0 306.5L2263.5 310.5M2265.2 306.5L2264.7 310.5M2265.2 306.5L2265.8 310.5M2267.5 306.5L2266.9 310.5M2267.5 306.5L2268.0 310.5M2269.9 306.5L2269.3 310.5M2269.9 306.5L2270.6 310.5M2272.6 306.5L2271.9 310.5M2272.6 306.5L2273.3 310.5M2275.3 306.5L2274.6 310.5M2275.3 306.5L2276.0 310.5M2278.0 306.5L2277.3 310.5M2278.0 306.5L2278.6 310.5M2280.6 306.5L2280.0 310.5M2280.6 306.5L2281.3 310.5M2283.3 306.5L2282.6 310.5M2283.3 306.5L2284.0 310.5M2286.0 306.5L2285.3 310.5M2286.0 306.5L2286.7 310.5M2288.7 306.5L2288.0 310.5M2288.7 306.5L2289.3 310.5M2292.5 306.5L2291.2 310.5M2292.5 306.5L2293.8 310.5M2297.5 306.5L2296.2 310.5M2297.5 306.5L2298.8 310.5M2302.5 306.5L2301.2 310.5M2302.5 306.5L2303.8 310.5M2307.5 306.5L2306.2 310.5M2307.5 306.5L2308.8 310.5" stroke="#4b4898" stroke-width="1.15" fill="none"/>
<path d="M2108.1 163.2h2.4v2.4h-2.4zM2002.0 202.3h2.4v2.4h-2.4zM2215.3 202.3h2.4v2.4h-2.4zM1944.6 233.8h2.4v2.4h-2.4zM2060.0 233.8h2.4v2.4h-2.4zM2172.6 233.8h2.4v2.4h-2.4zM2257.9 233.8h2.4v2.4h-2.4zM1915.5 258.1h2.4v2.4h-2.4zM1972.8 258.1h2.4v2.4h-2.4zM2030.5 258.1h2.4v2.4h-2.4zM2087.5 258.1h2.4v2.4h-2.4zM2147.8 258.1h2.4v2.4h-2.4zM2196.5 258.1h2.4v2.4h-2.4zM2239.2 258.1h2.4v2.4h-2.4zM2278.5 258.1h2.4v2.4h-2.4zM1905.3 276.5h2.4v2.4h-2.4zM1926.3 276.5h2.4v2.4h-2.4zM1957.0 276.5h2.4v2.4h-2.4zM1990.7 276.5h2.4v2.4h-2.4zM2020.2 276.5h2.4v2.4h-2.4zM2040.8 276.5h2.4v2.4h-2.4zM2068.4 276.5h2.4v2.4h-2.4zM2108.5 276.5h2.4v2.4h-2.4zM2132.4 276.5h2.4v2.4h-2.4zM2163.2 276.5h2.4v2.4h-2.4zM2183.7 276.5h2.4v2.4h-2.4zM2210.1 276.5h2.4v2.4h-2.4zM2229.8 276.5h2.4v2.4h-2.4zM2249.4 276.5h2.4v2.4h-2.4zM2267.4 276.5h2.4v2.4h-2.4zM2288.8 276.5h2.4v2.4h-2.4zM1901.0 290.5h2.4v2.4h-2.4zM1910.5 290.5h2.4v2.4h-2.4zM1921.0 290.5h2.4v2.4h-2.4zM1934.0 290.5h2.4v2.4h-2.4zM1949.3 290.5h2.4v2.4h-2.4zM1965.4 290.5h2.4v2.4h-2.4zM1982.3 290.5h2.4v2.4h-2.4zM1998.1 290.5h2.4v2.4h-2.4zM2012.8 290.5h2.4v2.4h-2.4zM2025.4 290.5h2.4v2.4h-2.4zM2035.6 290.5h2.4v2.4h-2.4zM2047.7 290.5h2.4v2.4h-2.4zM2061.5 290.5h2.4v2.4h-2.4zM2078.4 290.5h2.4v2.4h-2.4zM2098.5 290.5h2.4v2.4h-2.4zM2114.5 290.5h2.4v2.4h-2.4zM2126.4 290.5h2.4v2.4h-2.4zM2140.1 290.5h2.4v2.4h-2.4zM2155.5 290.5h2.4v2.4h-2.4zM2168.3 290.5h2.4v2.4h-2.4zM2178.6 290.5h2.4v2.4h-2.4zM2190.3 290.5h2.4v2.4h-2.4zM2203.5 290.5h2.4v2.4h-2.4zM2215.0 290.5h2.4v2.4h-2.4zM2224.9 290.5h2.4v2.4h-2.4zM2234.7 290.5h2.4v2.4h-2.4zM2244.5 290.5h2.4v2.4h-2.4zM2253.9 290.5h2.4v2.4h-2.4zM2262.9 290.5h2.4v2.4h-2.4zM2272.8 290.5h2.4v2.4h-2.4zM2283.5 290.5h2.4v2.4h-2.4zM2298.8 290.5h2.4v2.4h-2.4zM1899.3 299.7h1.6v1.6h-1.6zM1903.6 299.7h1.6v1.6h-1.6zM1908.3 299.7h1.6v1.6h-1.6zM1913.6 299.7h1.6v1.6h-1.6zM1918.8 299.7h1.6v1.6h-1.6zM1924.1 299.7h1.6v1.6h-1.6zM1930.5 299.7h1.6v1.6h-1.6zM1938.2 299.7h1.6v1.6h-1.6zM1945.9 299.7h1.6v1.6h-1.6zM1953.6 299.7h1.6v1.6h-1.6zM1961.6 299.7h1.6v1.6h-1.6zM1970.0 299.7h1.6v1.6h-1.6zM1978.5 299.7h1.6v1.6h-1.6zM1986.9 299.7h1.6v1.6h-1.6zM1994.8 299.7h1.6v1.6h-1.6zM2002.2 299.7h1.6v1.6h-1.6zM2009.5 299.7h1.6v1.6h-1.6zM2016.9 299.7h1.6v1.6h-1.6zM2023.2 299.7h1.6v1.6h-1.6zM2028.3 299.7h1.6v1.6h-1.6zM2033.5 299.7h1.6v1.6h-1.6zM2038.6 299.7h1.6v1.6h-1.6zM2044.7 299.7h1.6v1.6h-1.6zM2051.6 299.7h1.6v1.6h-1.6zM2058.4 299.7h1.6v1.6h-1.6zM2065.3 299.7h1.6v1.6h-1.6zM2073.8 299.7h1.6v1.6h-1.6zM2083.8 299.7h1.6v1.6h-1.6zM2093.9 299.7h1.6v1.6h-1.6zM2103.9 299.7h1.6v1.6h-1.6zM2111.9 299.7h1.6v1.6h-1.6zM2117.9 299.7h1.6v1.6h-1.6zM2123.8 299.7h1.6v1.6h-1.6zM2129.8 299.7h1.6v1.6h-1.6zM2136.7 299.7h1.6v1.6h-1.6zM2144.3 299.7h1.6v1.6h-1.6zM2152.0 299.7h1.6v1.6h-1.6zM2159.7 299.7h1.6v1.6h-1.6zM2166.2 299.7h1.6v1.6h-1.6zM2171.3 299.7h1.6v1.6h-1.6zM2176.4 299.7h1.6v1.6h-1.6zM2181.5 299.7h1.6v1.6h-1.6zM2187.4 299.7h1.6v1.6h-1.6zM2194.0 299.7h1.6v1.6h-1.6zM2200.6 299.7h1.6v1.6h-1.6zM2207.2 299.7h1.6v1.6h-1.6zM2213.0 299.7h1.6v1.6h-1.6zM2217.9 299.7h1.6v1.6h-1.6zM2222.8 299.7h1.6v1.6h-1.6zM2227.7 299.7h1.6v1.6h-1.6zM2232.6 299.7h1.6v1.6h-1.6zM2237.6 299.7h1.6v1.6h-1.6zM2242.4 299.7h1.6v1.6h-1.6zM2247.3 299.7h1.6v1.6h-1.6zM2252.0 299.7h1.6v1.6h-1.6zM2256.5 299.7h1.6v1.6h-1.6zM2261.0 299.7h1.6v1.6h-1.6zM2265.5 299.7h1.6v1.6h-1.6zM2270.5 299.7h1.6v1.6h-1.6zM2275.8 299.7h1.6v1.6h-1.6zM2281.2 299.7h1.6v1.6h-1.6zM2286.5 299.7h1.6v1.6h-1.6zM2294.2 299.7h1.6v1.6h-1.6zM2304.2 299.7h1.6v1.6h-1.6zM1898.3 305.7h1.6v1.6h-1.6zM1900.4 305.7h1.6v1.6h-1.6zM1902.5 305.7h1.6v1.6h-1.6zM1904.6 305.7h1.6v1.6h-1.6zM1907.0 305.7h1.6v1.6h-1.6zM1909.6 305.7h1.6v1.6h-1.6zM1912.3 305.7h1.6v1.6h-1.6zM1914.9 305.7h1.6v1.6h-1.6zM1917.5 305.7h1.6v1.6h-1.6zM1920.1 305.7h1.6v1.6h-1.6zM1922.8 305.7h1.6v1.6h-1.6zM1925.4 305.7h1.6v1.6h-1.6zM1928.6 305.7h1.6v1.6h-1.6zM1932.5 305.7h1.6v1.6h-1.6zM1936.3 305.7h1.6v1.6h-1.6zM1940.1 305.7h1.6v1.6h-1.6zM1944.0 305.7h1.6v1.6h-1.6zM1947.8 305.7h1.6v1.6h-1.6zM1951.6 305.7h1.6v1.6h-1.6zM1955.5 305.7h1.6v1.6h-1.6zM1959.5 305.7h1.6v1.6h-1.6zM1963.7 305.7h1.6v1.6h-1.6zM1967.9 305.7h1.6v1.6h-1.6zM1972.1 305.7h1.6v1.6h-1.6zM1976.4 305.7h1.6v1.6h-1.6zM1980.6 305.7h1.6v1.6h-1.6zM1984.8 305.7h1.6v1.6h-1.6zM1989.0 305.7h1.6v1.6h-1.6zM1992.9 305.7h1.6v1.6h-1.6zM1996.6 305.7h1.6v1.6h-1.6zM2000.3 305.7h1.6v1.6h-1.6zM2004.0 305.7h1.6v1.6h-1.6zM2007.7 305.7h1.6v1.6h-1.6zM2011.4 305.7h1.6v1.6h-1.6zM2015.1 305.7h1.6v1.6h-1.6zM2018.8 305.7h1.6v1.6h-1.6zM2021.9 305.7h1.6v1.6h-1.6zM2024.5 305.7h1.6v1.6h-1.6zM2027.0 305.7h1.6v1.6h-1.6zM2029.6 305.7h1.6v1.6h-1.6zM2032.2 305.7h1.6v1.6h-1.6zM2034.8 305.7h1.6v1.6h-1.6zM2037.3 305.7h1.6v1.6h-1.6zM2039.9 305.7h1.6v1.6h-1.6zM2042.9 305.7h1.6v1.6h-1.6zM2046.4 305.7h1.6v1.6h-1.6zM2049.8 305.7h1.6v1.6h-1.6zM2053.3 305.7h1.6v1.6h-1.6zM2056.7 305.7h1.6v1.6h-1.6zM2060.2 305.7h1.6v1.6h-1.6zM2063.6 305.7h1.6v1.6h-1.6zM2067.1 305.7h1.6v1.6h-1.6zM2071.3 305.7h1.6v1.6h-1.6zM2076.3 305.7h1.6v1.6h-1.6zM2081.3 305.7h1.6v1.6h-1.6zM2086.3 305.7h1.6v1.6h-1.6zM2091.4 305.7h1.6v1.6h-1.6zM2096.4 305.7h1.6v1.6h-1.6zM2101.4 305.7h1.6v1.6h-1.6zM2106.4 305.7h1.6v1.6h-1.6zM2110.4 305.7h1.6v1.6h-1.6zM2113.4 305.7h1.6v1.6h-1.6zM2116.4 305.7h1.6v1.6h-1.6zM2119.4 305.7h1.6v1.6h-1.6zM2122.3 305.7h1.6v1.6h-1.6zM2125.3 305.7h1.6v1.6h-1.6zM2128.3 305.7h1.6v1.6h-1.6zM2131.3 305.7h1.6v1.6h-1.6zM2134.7 305.7h1.6v1.6h-1.6zM2138.6 305.7h1.6v1.6h-1.6zM2142.4 305.7h1.6v1.6h-1.6zM2146.3 305.7h1.6v1.6h-1.6zM2150.1 305.7h1.6v1.6h-1.6zM2154.0 305.7h1.6v1.6h-1.6zM2157.8 305.7h1.6v1.6h-1.6zM2161.7 305.7h1.6v1.6h-1.6zM2164.9 305.7h1.6v1.6h-1.6zM2167.4 305.7h1.6v1.6h-1.6zM2170.0 305.7h1.6v1.6h-1.6zM2172.6 305.7h1.6v1.6h-1.6zM2175.1 305.7h1.6v1.6h-1.6zM2177.7 305.7h1.6v1.6h-1.6zM2180.3 305.7h1.6v1.6h-1.6zM2182.8 305.7h1.6v1.6h-1.6zM2185.7 305.7h1.6v1.6h-1.6zM2189.0 305.7h1.6v1.6h-1.6zM2192.3 305.7h1.6v1.6h-1.6zM2195.7 305.7h1.6v1.6h-1.6zM2199.0 305.7h1.6v1.6h-1.6zM2202.3 305.7h1.6v1.6h-1.6zM2205.5 305.7h1.6v1.6h-1.6zM2208.8 305.7h1.6v1.6h-1.6zM2211.7 305.7h1.6v1.6h-1.6zM2214.2 305.7h1.6v1.6h-1.6zM2216.7 305.7h1.6v1.6h-1.6zM2219.1 305.7h1.6v1.6h-1.6zM2221.6 305.7h1.6v1.6h-1.6zM2224.0 305.7h1.6v1.6h-1.6zM2226.5 305.7h1.6v1.6h-1.6zM2229.0 305.7h1.6v1.6h-1.6zM2231.4 305.7h1.6v1.6h-1.6zM2233.9 305.7h1.6v1.6h-1.6zM2236.3 305.7h1.6v1.6h-1.6zM2238.8 305.7h1.6v1.6h-1.6zM2241.2 305.7h1.6v1.6h-1.6zM2243.7 305.7h1.6v1.6h-1.6zM2246.1 305.7h1.6v1.6h-1.6zM2248.6 305.7h1.6v1.6h-1.6zM2250.9 305.7h1.6v1.6h-1.6zM2253.2 305.7h1.6v1.6h-1.6zM2255.4 305.7h1.6v1.6h-1.6zM2257.7 305.7h1.6v1.6h-1.6zM2259.9 305.7h1.6v1.6h-1.6zM2262.2 305.7h1.6v1.6h-1.6zM2264.4 305.7h1.6v1.6h-1.6zM2266.7 305.7h1.6v1.6h-1.6zM2269.1 305.7h1.6v1.6h-1.6zM2271.8 305.7h1.6v1.6h-1.6zM2274.5 305.7h1.6v1.6h-1.6zM2277.2 305.7h1.6v1.6h-1.6zM2279.8 305.7h1.6v1.6h-1.6zM2282.5 305.7h1.6v1.6h-1.6zM2285.2 305.7h1.6v1.6h-1.6zM2287.9 305.7h1.6v1.6h-1.6zM2291.7 305.7h1.6v1.6h-1.6zM2296.7 305.7h1.6v1.6h-1.6zM2301.7 305.7h1.6v1.6h-1.6zM2306.7 305.7h1.6v1.6h-1.6z" fill="#4b4898"/>
<rect x="1898.0" y="310.3" width="412.0" height="3.2" fill="#4b4898"/>
</g>
<g filter="url(#soft)">
<path d="M2309.4 116.0L2531.5 164.4M2531.5 164.4L2401.5 203.5M2531.5 164.4L2661.0 203.5M2401.5 203.5L2351.4 234.5M2401.5 203.5L2452.6 234.5M2661.0 203.5L2575.0 234.5M2661.0 203.5L2748.3 234.5M2351.4 234.5L2331.4 259.2M2351.4 234.5L2371.3 259.2M2452.6 234.5L2419.0 259.2M2452.6 234.5L2485.5 259.2M2575.0 234.5L2545.3 259.2M2575.0 234.5L2604.0 259.2M2748.3 234.5L2701.5 259.2M2748.3 234.5L2795.8 259.2M2331.4 259.2L2320.5 277.6M2331.4 259.2L2343.0 277.6M2371.3 259.2L2362.9 277.6M2371.3 259.2L2379.2 277.6M2419.0 259.2L2405.9 277.6M2419.0 259.2L2434.2 277.6M2485.5 259.2L2473.0 277.6M2485.5 259.2L2498.7 277.6M2545.3 259.2L2530.6 277.6M2545.3 259.2L2561.0 277.6M2604.0 259.2L2592.5 277.6M2604.0 259.2L2614.5 277.6M2701.5 259.2L2673.0 277.6M2701.5 259.2L2728.7 277.6M2795.8 259.2L2775.9 277.6M2795.8 259.2L2817.8 277.6M2320.5 277.6L2315.2 291.2M2320.5 277.6L2326.1 291.2M2343.0 277.6L2337.4 291.2M2343.0 277.6L2348.0 291.2M2362.9 277.6L2357.9 291.2M2362.9 277.6L2367.0 291.2M2379.2 277.6L2375.1 291.2M2379.2 277.6L2385.9 291.2M2405.9 277.6L2399.2 291.2M2405.9 277.6L2413.0 291.2M2434.2 277.6L2427.1 291.2M2434.2 277.6L2443.9 291.2M2473.0 277.6L2463.3 291.2M2473.0 277.6L2479.4 291.2M2498.7 277.6L2492.3 291.2M2498.7 277.6L2506.7 291.2M2530.6 277.6L2522.6 291.2M2530.6 277.6L2538.2 291.2M2561.0 277.6L2553.4 291.2M2561.0 277.6L2568.9 291.2M2592.5 277.6L2584.6 291.2M2592.5 277.6L2598.0 291.2M2614.5 277.6L2609.0 291.2M2614.5 277.6L2629.1 291.2M2673.0 277.6L2658.4 291.2M2673.0 277.6L2686.9 291.2M2728.7 277.6L2714.8 291.2M2728.7 277.6L2740.5 291.2M2775.9 277.6L2764.1 291.2M2775.9 277.6L2786.4 291.2M2817.8 277.6L2807.3 291.2M2817.8 277.6L2822.4 291.2M2315.2 291.2L2312.6 300.5M2315.2 291.2L2317.9 300.5M2326.1 291.2L2323.3 300.5M2326.1 291.2L2328.9 300.5M2337.4 291.2L2334.6 300.5M2337.4 291.2L2340.2 300.5M2348.0 291.2L2345.5 300.5M2348.0 291.2L2350.5 300.5M2357.9 291.2L2355.4 300.5M2357.9 291.2L2360.4 300.5M2367.0 291.2L2364.9 300.5M2367.0 291.2L2369.0 300.5M2375.1 291.2L2373.1 300.5M2375.1 291.2L2377.2 300.5M2385.9 291.2L2382.5 300.5M2385.9 291.2L2389.2 300.5M2399.2 291.2L2395.9 300.5M2399.2 291.2L2402.6 300.5M2413.0 291.2L2409.4 300.5M2413.0 291.2L2416.5 300.5M2427.1 291.2L2423.6 300.5M2427.1 291.2L2430.7 300.5M2443.9 291.2L2439.0 300.5M2443.9 291.2L2448.7 300.5M2463.3 291.2L2458.5 300.5M2463.3 291.2L2468.2 300.5M2479.4 291.2L2476.2 300.5M2479.4 291.2L2482.6 300.5M2492.3 291.2L2489.1 300.5M2492.3 291.2L2495.5 300.5M2506.7 291.2L2502.7 300.5M2506.7 291.2L2510.7 300.5M2522.6 291.2L2518.6 300.5M2522.6 291.2L2526.6 300.5M2538.2 291.2L2534.4 300.5M2538.2 291.2L2542.0 300.5M2553.4 291.2L2549.6 300.5M2553.4 291.2L2557.2 300.5M2568.9 291.2L2564.9 300.5M2568.9 291.2L2572.8 300.5M2584.6 291.2L2580.7 300.5M2584.6 291.2L2588.6 300.5M2598.0 291.2L2595.2 300.5M2598.0 291.2L2600.8 300.5M2609.0 291.2L2606.2 300.5M2609.0 291.2L2611.8 300.5M2629.1 291.2L2621.8 300.5M2629.1 291.2L2636.4 300.5M2658.4 291.2L2651.1 300.5M2658.4 291.2L2665.7 300.5M2686.9 291.2L2680.0 300.5M2686.9 291.2L2693.9 300.5M2714.8 291.2L2707.8 300.5M2714.8 291.2L2721.7 300.5M2740.5 291.2L2734.6 300.5M2740.5 291.2L2746.4 300.5M2764.1 291.2L2758.2 300.5M2764.1 291.2L2770.0 300.5M2786.4 291.2L2781.1 300.5M2786.4 291.2L2791.6 300.5M2807.3 291.2L2802.1 300.5M2807.3 291.2L2812.6 300.5M2822.4 291.2L2820.1 300.5M2822.4 291.2L2824.7 300.5M2312.6 300.5L2311.3 306.5M2312.6 300.5L2313.9 306.5M2317.9 300.5L2316.6 306.5M2317.9 300.5L2319.2 306.5M2323.3 300.5L2321.9 306.5M2323.3 300.5L2324.7 306.5M2328.9 300.5L2327.5 306.5M2328.9 300.5L2330.3 306.5M2334.6 300.5L2333.2 306.5M2334.6 300.5L2336.0 306.5M2340.2 300.5L2338.8 306.5M2340.2 300.5L2341.6 306.5M2345.5 300.5L2344.2 306.5M2345.5 300.5L2346.7 306.5M2350.5 300.5L2349.2 306.5M2350.5 300.5L2351.7 306.5M2355.4 300.5L2354.2 306.5M2355.4 300.5L2356.7 306.5M2360.4 300.5L2359.2 306.5M2360.4 300.5L2361.7 306.5M2364.9 300.5L2363.9 306.5M2364.9 300.5L2366.0 306.5M2369.0 300.5L2368.0 306.5M2369.0 300.5L2370.0 306.5M2373.1 300.5L2372.1 306.5M2373.1 300.5L2374.1 306.5M2377.2 300.5L2376.1 306.5M2377.2 300.5L2378.2 306.5M2382.5 300.5L2380.9 306.5M2382.5 300.5L2384.2 306.5M2389.2 300.5L2387.5 306.5M2389.2 300.5L2390.9 306.5M2395.9 300.5L2394.2 306.5M2395.9 300.5L2397.6 306.5M2402.6 300.5L2400.9 306.5M2402.6 300.5L2404.2 306.5M2409.4 300.5L2407.7 306.5M2409.4 300.5L2411.2 306.5M2416.5 300.5L2414.7 306.5M2416.5 300.5L2418.3 306.5M2423.6 300.5L2421.8 306.5M2423.6 300.5L2425.4 306.5M2430.7 300.5L2428.9 306.5M2430.7 300.5L2432.4 306.5M2439.0 300.5L2436.6 306.5M2439.0 300.5L2441.5 306.5M2448.7 300.5L2446.3 306.5M2448.7 300.5L2451.2 306.5M2458.5 300.5L2456.0 306.5M2458.5 300.5L2460.9 306.5M2468.2 300.5L2465.7 306.5M2468.2 300.5L2470.6 306.5M2476.2 300.5L2474.6 306.5M2476.2 300.5L2477.8 306.5M2482.6 300.5L2481.0 306.5M2482.6 300.5L2484.2 306.5M2489.1 300.5L2487.5 306.5M2489.1 300.5L2490.7 306.5M2495.5 300.5L2493.9 306.5M2495.5 300.5L2497.1 306.5M2502.7 300.5L2500.7 306.5M2502.7 300.5L2504.7 306.5M2510.7 300.5L2508.7 306.5M2510.7 300.5L2512.7 306.5M2518.6 300.5L2516.6 306.5M2518.6 300.5L2520.6 306.5M2526.6 300.5L2524.6 306.5M2526.6 300.5L2528.6 306.5M2534.4 300.5L2532.5 306.5M2534.4 300.5L2536.3 306.5M2542.0 300.5L2540.1 306.5M2542.0 300.5L2543.9 306.5M2549.6 300.5L2547.7 306.5M2549.6 300.5L2551.5 306.5M2557.2 300.5L2555.3 306.5M2557.2 300.5L2559.1 306.5M2564.9 300.5L2563.0 306.5M2564.9 300.5L2566.9 306.5M2572.8 300.5L2570.8 306.5M2572.8 300.5L2574.8 306.5M2580.7 300.5L2578.7 306.5M2580.7 300.5L2582.7 306.5M2588.6 300.5L2586.6 306.5M2588.6 300.5L2590.5 306.5M2595.2 300.5L2593.9 306.5M2595.2 300.5L2596.6 306.5M2600.8 300.5L2599.4 306.5M2600.8 300.5L2602.1 306.5M2606.2 300.5L2604.9 306.5M2606.2 300.5L2607.6 306.5M2611.8 300.5L2610.4 306.5M2611.8 300.5L2613.1 306.5M2621.8 300.5L2618.2 306.5M2621.8 300.5L2625.5 306.5M2636.4 300.5L2632.8 306.5M2636.4 300.5L2640.1 306.5M2651.1 300.5L2647.4 306.5M2651.1 300.5L2654.7 306.5M2665.7 300.5L2662.0 306.5M2665.7 300.5L2669.3 306.5M2680.0 300.5L2676.5 306.5M2680.0 300.5L2683.4 306.5M2693.9 300.5L2690.4 306.5M2693.9 300.5L2697.4 306.5M2707.8 300.5L2704.3 306.5M2707.8 300.5L2711.3 306.5M2721.7 300.5L2718.3 306.5M2721.7 300.5L2725.2 306.5M2734.6 300.5L2731.6 306.5M2734.6 300.5L2737.6 306.5M2746.4 300.5L2743.4 306.5M2746.4 300.5L2749.4 306.5M2758.2 300.5L2755.3 306.5M2758.2 300.5L2761.2 306.5M2770.0 300.5L2767.1 306.5M2770.0 300.5L2773.0 306.5M2781.1 300.5L2778.5 306.5M2781.1 300.5L2783.8 306.5M2791.6 300.5L2789.0 306.5M2791.6 300.5L2794.2 306.5M2802.1 300.5L2799.5 306.5M2802.1 300.5L2804.7 306.5M2812.6 300.5L2809.9 306.5M2812.6 300.5L2815.2 306.5M2820.1 300.5L2819.0 306.5M2820.1 300.5L2821.3 306.5M2824.7 300.5L2823.5 306.5M2824.7 300.5L2825.8 306.5M2311.3 306.5L2310.7 310.5M2311.3 306.5L2312.0 310.5M2313.9 306.5L2313.3 310.5M2313.9 306.5L2314.6 310.5M2316.6 306.5L2315.9 310.5M2316.6 306.5L2317.2 310.5M2319.2 306.5L2318.5 310.5M2319.2 306.5L2319.8 310.5M2321.9 306.5L2321.2 310.5M2321.9 306.5L2322.6 310.5M2324.7 306.5L2324.0 310.5M2324.7 306.5L2325.4 310.5M2327.5 306.5L2326.8 310.5M2327.5 306.5L2328.2 310.5M2330.3 306.5L2329.6 310.5M2330.3 306.5L2331.0 310.5M2333.2 306.5L2332.5 310.5M2333.2 306.5L2333.9 310.5M2336.0 306.5L2335.3 310.5M2336.0 306.5L2336.7 310.5M2338.8 306.5L2338.1 310.5M2338.8 306.5L2339.5 310.5M2341.6 306.5L2340.9 310.5M2341.6 306.5L2342.3 310.5M2344.2 306.5L2343.6 310.5M2344.2 306.5L2344.9 310.5M2346.7 306.5L2346.1 310.5M2346.7 306.5L2347.4 310.5M2349.2 306.5L2348.6 310.5M2349.2 306.5L2349.8 310.5M2351.7 306.5L2351.1 310.5M2351.7 306.5L2352.3 310.5M2354.2 306.5L2353.6 310.5M2354.2 306.5L2354.8 310.5M2356.7 306.5L2356.1 310.5M2356.7 306.5L2357.3 310.5M2359.2 306.5L2358.5 310.5M2359.2 306.5L2359.8 310.5M2361.7 306.5L2361.0 310.5M2361.7 306.5L2362.3 310.5M2363.9 306.5L2363.4 310.5M2363.9 306.5L2364.4 310.5M2366.0 306.5L2365.4 310.5M2366.0 306.5L2366.5 310.5M2368.0 306.5L2367.5 310.5M2368.0 306.5L2368.5 310.5M2370.0 306.5L2369.5 310.5M2370.0 306.5L2370.5 310.5M2372.1 306.5L2371.6 310.5M2372.1 306.5L2372.6 310.5M2374.1 306.5L2373.6 310.5M2374.1 306.5L2374.6 310.5M2376.1 306.5L2375.6 310.5M2376.1 306.5L2376.7 310.5M2378.2 306.5L2377.7 310.5M2378.2 306.5L2378.7 310.5M2380.9 306.5L2380.0 310.5M2380.9 306.5L2381.7 310.5M2384.2 306.5L2383.4 310.5M2384.2 306.5L2385.0 310.5M2387.5 306.5L2386.7 310.5M2387.5 306.5L2388.4 310.5M2390.9 306.5L2390.0 310.5M2390.9 306.5L2391.7 310.5M2394.2 306.5L2393.4 310.5M2394.2 306.5L2395.1 310.5M2397.6 306.5L2396.7 310.5M2397.6 306.5L2398.4 310.5M2400.9 306.5L2400.1 310.5M2400.9 306.5L2401.7 310.5M2404.2 306.5L2403.4 310.5M2404.2 306.5L2405.1 310.5M2407.7 306.5L2406.8 310.5M2407.7 306.5L2408.6 310.5M2411.2 306.5L2410.3 310.5M2411.2 306.5L2412.1 310.5M2414.7 306.5L2413.9 310.5M2414.7 306.5L2415.6 310.5M2418.3 306.5L2417.4 310.5M2418.3 306.5L2419.2 310.5M2421.8 306.5L2420.9 310.5M2421.8 306.5L2422.7 310.5M2425.4 306.5L2424.5 310.5M2425.4 306.5L2426.2 310.5M2428.9 306.5L2428.0 310.5M2428.9 306.5L2429.8 310.5M2432.4 306.5L2431.5 310.5M2432.4 306.5L2433.3 310.5M2436.6 306.5L2435.4 310.5M2436.6 306.5L2437.8 310.5M2441.5 306.5L2440.3 310.5M2441.5 306.5L2442.7 310.5M2446.3 306.5L2445.1 310.5M2446.3 306.5L2447.5 310.5M2451.2 306.5L2450.0 310.5M2451.2 306.5L2452.4 310.5M2456.0 306.5L2454.8 310.5M2456.0 306.5L2457.2 310.5M2460.9 306.5L2459.7 310.5M2460.9 306.5L2462.1 310.5M2465.7 306.5L2464.5 310.5M2465.7 306.5L2466.9 310.5M2470.6 306.5L2469.4 310.5M2470.6 306.5L2471.8 310.5M2474.6 306.5L2473.8 310.5M2474.6 306.5L2475.4 310.5M2477.8 306.5L2477.0 310.5M2477.8 306.5L2478.6 310.5M2481.0 306.5L2480.2 310.5M2481.0 306.5L2481.8 310.5M2484.2 306.5L2483.4 310.5M2484.2 306.5L2485.0 310.5M2487.5 306.5L2486.7 310.5M2487.5 306.5L2488.3 310.5M2490.7 306.5L2489.9 310.5M2490.7 306.5L2491.5 310.5M2493.9 306.5L2493.1 310.5M2493.9 306.5L2494.7 310.5M2497.1 306.5L2496.3 310.5M2497.1 306.5L2497.9 310.5M2500.7 306.5L2499.7 310.5M2500.7 306.5L2501.7 310.5M2504.7 306.5L2503.7 310.5M2504.7 306.5L2505.7 310.5M2508.7 306.5L2507.7 310.5M2508.7 306.5L2509.7 310.5M2512.7 306.5L2511.7 310.5M2512.7 306.5L2513.7 310.5M2516.6 306.5L2515.6 310.5M2516.6 306.5L2517.6 310.5M2520.6 306.5L2519.6 310.5M2520.6 306.5L2521.6 310.5M2524.6 306.5L2523.6 310.5M2524.6 306.5L2525.6 310.5M2528.6 306.5L2527.6 310.5M2528.6 306.5L2529.6 310.5M2532.5 306.5L2531.5 310.5M2532.5 306.5L2533.4 310.5M2536.3 306.5L2535.3 310.5M2536.3 306.5L2537.2 310.5M2540.1 306.5L2539.2 310.5M2540.1 306.5L2541.0 310.5M2543.9 306.5L2543.0 310.5M2543.9 306.5L2544.8 310.5M2547.7 306.5L2546.8 310.5M2547.7 306.5L2548.7 310.5M2551.5 306.5L2550.6 310.5M2551.5 306.5L2552.5 310.5M2555.3 306.5L2554.3 310.5M2555.3 306.5L2556.2 310.5M2559.1 306.5L2558.2 310.5M2559.1 306.5L2560.0 310.5M2563.0 306.5L2562.0 310.5M2563.0 306.5L2564.0 310.5M2566.9 306.5L2565.9 310.5M2566.9 306.5L2567.9 310.5M2570.8 306.5L2569.9 310.5M2570.8 306.5L2571.8 310.5M2574.8 306.5L2573.8 310.5M2574.8 306.5L2575.8 310.5M2578.7 306.5L2577.7 310.5M2578.7 306.5L2579.7 310.5M2582.7 306.5L2581.7 310.5M2582.7 306.5L2583.6 310.5M2586.6 306.5L2585.6 310.5M2586.6 306.5L2587.6 310.5M2590.5 306.5L2589.5 310.5M2590.5 306.5L2591.5 310.5M2593.9 306.5L2593.2 310.5M2593.9 306.5L2594.6 310.5M2596.6 306.5L2595.9 310.5M2596.6 306.5L2597.3 310.5M2599.4 306.5L2598.7 310.5M2599.4 306.5L2600.1 310.5M2602.1 306.5L2601.4 310.5M2602.1 306.5L2602.8 310.5M2604.9 306.5L2604.2 310.5M2604.9 306.5L2605.6 310.5M2607.6 306.5L2606.9 310.5M2607.6 306.5L2608.3 310.5M2610.4 306.5L2609.7 310.5M2610.4 306.5L2611.1 310.5M2613.1 306.5L2612.4 310.5M2613.1 306.5L2613.8 310.5M2618.2 306.5L2616.3 310.5M2618.2 306.5L2620.0 310.5M2625.5 306.5L2623.6 310.5M2625.5 306.5L2627.3 310.5M2632.8 306.5L2631.0 310.5M2632.8 306.5L2634.6 310.5M2640.1 306.5L2638.3 310.5M2640.1 306.5L2641.9 310.5M2647.4 306.5L2645.6 310.5M2647.4 306.5L2649.2 310.5M2654.7 306.5L2652.9 310.5M2654.7 306.5L2656.5 310.5M2662.0 306.5L2660.2 310.5M2662.0 306.5L2663.9 310.5M2669.3 306.5L2667.5 310.5M2669.3 306.5L2671.2 310.5M2676.5 306.5L2674.7 310.5M2676.5 306.5L2678.2 310.5M2683.4 306.5L2681.7 310.5M2683.4 306.5L2685.2 310.5M2690.4 306.5L2688.7 310.5M2690.4 306.5L2692.1 310.5M2697.4 306.5L2695.6 310.5M2697.4 306.5L2699.1 310.5M2704.3 306.5L2702.6 310.5M2704.3 306.5L2706.1 310.5M2711.3 306.5L2709.6 310.5M2711.3 306.5L2713.0 310.5M2718.3 306.5L2716.5 310.5M2718.3 306.5L2720.0 310.5M2725.2 306.5L2723.5 310.5M2725.2 306.5L2727.0 310.5M2731.6 306.5L2730.2 310.5M2731.6 306.5L2733.1 310.5M2737.6 306.5L2736.1 310.5M2737.6 306.5L2739.0 310.5M2743.4 306.5L2742.0 310.5M2743.4 306.5L2744.9 310.5M2749.4 306.5L2747.9 310.5M2749.4 306.5L2750.8 310.5M2755.3 306.5L2753.8 310.5M2755.3 306.5L2756.7 310.5M2761.2 306.5L2759.7 310.5M2761.2 306.5L2762.6 310.5M2767.1 306.5L2765.6 310.5M2767.1 306.5L2768.5 310.5M2773.0 306.5L2771.5 310.5M2773.0 306.5L2774.4 310.5M2778.5 306.5L2777.2 310.5M2778.5 306.5L2779.8 310.5M2783.8 306.5L2782.4 310.5M2783.8 306.5L2785.1 310.5M2789.0 306.5L2787.7 310.5M2789.0 306.5L2790.3 310.5M2794.2 306.5L2792.9 310.5M2794.2 306.5L2795.5 310.5M2799.5 306.5L2798.2 310.5M2799.5 306.5L2800.8 310.5M2804.7 306.5L2803.4 310.5M2804.7 306.5L2806.0 310.5M2809.9 306.5L2808.6 310.5M2809.9 306.5L2811.3 310.5M2815.2 306.5L2813.9 310.5M2815.2 306.5L2816.5 310.5M2819.0 306.5L2818.4 310.5M2819.0 306.5L2819.5 310.5M2821.3 306.5L2820.7 310.5M2821.3 306.5L2821.8 310.5M2823.5 306.5L2823.0 310.5M2823.5 306.5L2824.1 310.5M2825.8 306.5L2825.3 310.5M2825.8 306.5L2826.4 310.5" stroke="#d9473c" stroke-width="1.15" fill="none"/>
<path d="M2530.3 163.2h2.4v2.4h-2.4zM2400.3 202.3h2.4v2.4h-2.4zM2659.8 202.3h2.4v2.4h-2.4zM2350.2 233.3h2.4v2.4h-2.4zM2451.4 233.3h2.4v2.4h-2.4zM2573.8 233.3h2.4v2.4h-2.4zM2747.1 233.3h2.4v2.4h-2.4zM2330.2 258.0h2.4v2.4h-2.4zM2370.1 258.0h2.4v2.4h-2.4zM2417.8 258.0h2.4v2.4h-2.4zM2484.3 258.0h2.4v2.4h-2.4zM2544.1 258.0h2.4v2.4h-2.4zM2602.8 258.0h2.4v2.4h-2.4zM2700.3 258.0h2.4v2.4h-2.4zM2794.6 258.0h2.4v2.4h-2.4zM2319.3 276.4h2.4v2.4h-2.4zM2341.8 276.4h2.4v2.4h-2.4zM2361.7 276.4h2.4v2.4h-2.4zM2378.0 276.4h2.4v2.4h-2.4zM2404.7 276.4h2.4v2.4h-2.4zM2433.0 276.4h2.4v2.4h-2.4zM2471.8 276.4h2.4v2.4h-2.4zM2497.5 276.4h2.4v2.4h-2.4zM2529.4 276.4h2.4v2.4h-2.4zM2559.8 276.4h2.4v2.4h-2.4zM2591.3 276.4h2.4v2.4h-2.4zM2613.3 276.4h2.4v2.4h-2.4zM2671.8 276.4h2.4v2.4h-2.4zM2727.5 276.4h2.4v2.4h-2.4zM2774.7 276.4h2.4v2.4h-2.4zM2816.6 276.4h2.4v2.4h-2.4zM2314.1 290.0h2.4v2.4h-2.4zM2324.9 290.0h2.4v2.4h-2.4zM2336.2 290.0h2.4v2.4h-2.4zM2346.8 290.0h2.4v2.4h-2.4zM2356.7 290.0h2.4v2.4h-2.4zM2365.8 290.0h2.4v2.4h-2.4zM2373.9 290.0h2.4v2.4h-2.4zM2384.7 290.0h2.4v2.4h-2.4zM2398.0 290.0h2.4v2.4h-2.4zM2411.8 290.0h2.4v2.4h-2.4zM2425.9 290.0h2.4v2.4h-2.4zM2442.7 290.0h2.4v2.4h-2.4zM2462.1 290.0h2.4v2.4h-2.4zM2478.2 290.0h2.4v2.4h-2.4zM2491.1 290.0h2.4v2.4h-2.4zM2505.5 290.0h2.4v2.4h-2.4zM2521.4 290.0h2.4v2.4h-2.4zM2537.0 290.0h2.4v2.4h-2.4zM2552.2 290.0h2.4v2.4h-2.4zM2567.7 290.0h2.4v2.4h-2.4zM2583.4 290.0h2.4v2.4h-2.4zM2596.8 290.0h2.4v2.4h-2.4zM2607.8 290.0h2.4v2.4h-2.4zM2627.9 290.0h2.4v2.4h-2.4zM2657.2 290.0h2.4v2.4h-2.4zM2685.7 290.0h2.4v2.4h-2.4zM2713.6 290.0h2.4v2.4h-2.4zM2739.3 290.0h2.4v2.4h-2.4zM2762.9 290.0h2.4v2.4h-2.4zM2785.2 290.0h2.4v2.4h-2.4zM2806.1 290.0h2.4v2.4h-2.4zM2821.2 290.0h2.4v2.4h-2.4zM2311.8 299.7h1.6v1.6h-1.6zM2317.1 299.7h1.6v1.6h-1.6zM2322.5 299.7h1.6v1.6h-1.6zM2328.1 299.7h1.6v1.6h-1.6zM2333.8 299.7h1.6v1.6h-1.6zM2339.4 299.7h1.6v1.6h-1.6zM2344.7 299.7h1.6v1.6h-1.6zM2349.7 299.7h1.6v1.6h-1.6zM2354.6 299.7h1.6v1.6h-1.6zM2359.6 299.7h1.6v1.6h-1.6zM2364.1 299.7h1.6v1.6h-1.6zM2368.2 299.7h1.6v1.6h-1.6zM2372.3 299.7h1.6v1.6h-1.6zM2376.4 299.7h1.6v1.6h-1.6zM2381.7 299.7h1.6v1.6h-1.6zM2388.4 299.7h1.6v1.6h-1.6zM2395.1 299.7h1.6v1.6h-1.6zM2401.8 299.7h1.6v1.6h-1.6zM2408.6 299.7h1.6v1.6h-1.6zM2415.7 299.7h1.6v1.6h-1.6zM2422.8 299.7h1.6v1.6h-1.6zM2429.9 299.7h1.6v1.6h-1.6zM2438.2 299.7h1.6v1.6h-1.6zM2447.9 299.7h1.6v1.6h-1.6zM2457.7 299.7h1.6v1.6h-1.6zM2467.3 299.7h1.6v1.6h-1.6zM2475.4 299.7h1.6v1.6h-1.6zM2481.8 299.7h1.6v1.6h-1.6zM2488.3 299.7h1.6v1.6h-1.6zM2494.7 299.7h1.6v1.6h-1.6zM2501.9 299.7h1.6v1.6h-1.6zM2509.9 299.7h1.6v1.6h-1.6zM2517.8 299.7h1.6v1.6h-1.6zM2525.8 299.7h1.6v1.6h-1.6zM2533.6 299.7h1.6v1.6h-1.6zM2541.2 299.7h1.6v1.6h-1.6zM2548.8 299.7h1.6v1.6h-1.6zM2556.4 299.7h1.6v1.6h-1.6zM2564.1 299.7h1.6v1.6h-1.6zM2572.0 299.7h1.6v1.6h-1.6zM2579.9 299.7h1.6v1.6h-1.6zM2587.8 299.7h1.6v1.6h-1.6zM2594.4 299.7h1.6v1.6h-1.6zM2599.9 299.7h1.6v1.6h-1.6zM2605.4 299.7h1.6v1.6h-1.6zM2610.9 299.7h1.6v1.6h-1.6zM2621.0 299.7h1.6v1.6h-1.6zM2635.6 299.7h1.6v1.6h-1.6zM2650.3 299.7h1.6v1.6h-1.6zM2664.9 299.7h1.6v1.6h-1.6zM2679.2 299.7h1.6v1.6h-1.6zM2693.1 299.7h1.6v1.6h-1.6zM2707.0 299.7h1.6v1.6h-1.6zM2720.9 299.7h1.6v1.6h-1.6zM2733.8 299.7h1.6v1.6h-1.6zM2745.6 299.7h1.6v1.6h-1.6zM2757.4 299.7h1.6v1.6h-1.6zM2769.2 299.7h1.6v1.6h-1.6zM2780.3 299.7h1.6v1.6h-1.6zM2790.8 299.7h1.6v1.6h-1.6zM2801.3 299.7h1.6v1.6h-1.6zM2811.8 299.7h1.6v1.6h-1.6zM2819.3 299.7h1.6v1.6h-1.6zM2823.9 299.7h1.6v1.6h-1.6zM2310.5 305.7h1.6v1.6h-1.6zM2313.1 305.7h1.6v1.6h-1.6zM2315.8 305.7h1.6v1.6h-1.6zM2318.4 305.7h1.6v1.6h-1.6zM2321.1 305.7h1.6v1.6h-1.6zM2323.9 305.7h1.6v1.6h-1.6zM2326.7 305.7h1.6v1.6h-1.6zM2329.5 305.7h1.6v1.6h-1.6zM2332.4 305.7h1.6v1.6h-1.6zM2335.2 305.7h1.6v1.6h-1.6zM2338.0 305.7h1.6v1.6h-1.6zM2340.8 305.7h1.6v1.6h-1.6zM2343.4 305.7h1.6v1.6h-1.6zM2345.9 305.7h1.6v1.6h-1.6zM2348.4 305.7h1.6v1.6h-1.6zM2350.9 305.7h1.6v1.6h-1.6zM2353.4 305.7h1.6v1.6h-1.6zM2355.9 305.7h1.6v1.6h-1.6zM2358.4 305.7h1.6v1.6h-1.6zM2360.9 305.7h1.6v1.6h-1.6zM2363.1 305.7h1.6v1.6h-1.6zM2365.2 305.7h1.6v1.6h-1.6zM2367.2 305.7h1.6v1.6h-1.6zM2369.2 305.7h1.6v1.6h-1.6zM2371.3 305.7h1.6v1.6h-1.6zM2373.3 305.7h1.6v1.6h-1.6zM2375.3 305.7h1.6v1.6h-1.6zM2377.4 305.7h1.6v1.6h-1.6zM2380.1 305.7h1.6v1.6h-1.6zM2383.4 305.7h1.6v1.6h-1.6zM2386.7 305.7h1.6v1.6h-1.6zM2390.1 305.7h1.6v1.6h-1.6zM2393.4 305.7h1.6v1.6h-1.6zM2396.8 305.7h1.6v1.6h-1.6zM2400.1 305.7h1.6v1.6h-1.6zM2403.4 305.7h1.6v1.6h-1.6zM2406.9 305.7h1.6v1.6h-1.6zM2410.4 305.7h1.6v1.6h-1.6zM2413.9 305.7h1.6v1.6h-1.6zM2417.5 305.7h1.6v1.6h-1.6zM2421.0 305.7h1.6v1.6h-1.6zM2424.6 305.7h1.6v1.6h-1.6zM2428.1 305.7h1.6v1.6h-1.6zM2431.6 305.7h1.6v1.6h-1.6zM2435.8 305.7h1.6v1.6h-1.6zM2440.7 305.7h1.6v1.6h-1.6zM2445.5 305.7h1.6v1.6h-1.6zM2450.4 305.7h1.6v1.6h-1.6zM2455.2 305.7h1.6v1.6h-1.6zM2460.1 305.7h1.6v1.6h-1.6zM2464.9 305.7h1.6v1.6h-1.6zM2469.8 305.7h1.6v1.6h-1.6zM2473.8 305.7h1.6v1.6h-1.6zM2477.0 305.7h1.6v1.6h-1.6zM2480.2 305.7h1.6v1.6h-1.6zM2483.4 305.7h1.6v1.6h-1.6zM2486.7 305.7h1.6v1.6h-1.6zM2489.9 305.7h1.6v1.6h-1.6zM2493.1 305.7h1.6v1.6h-1.6zM2496.3 305.7h1.6v1.6h-1.6zM2499.9 305.7h1.6v1.6h-1.6zM2503.9 305.7h1.6v1.6h-1.6zM2507.9 305.7h1.6v1.6h-1.6zM2511.9 305.7h1.6v1.6h-1.6zM2515.8 305.7h1.6v1.6h-1.6zM2519.8 305.7h1.6v1.6h-1.6zM2523.8 305.7h1.6v1.6h-1.6zM2527.8 305.7h1.6v1.6h-1.6zM2531.7 305.7h1.6v1.6h-1.6zM2535.5 305.7h1.6v1.6h-1.6zM2539.3 305.7h1.6v1.6h-1.6zM2543.1 305.7h1.6v1.6h-1.6zM2546.9 305.7h1.6v1.6h-1.6zM2550.7 305.7h1.6v1.6h-1.6zM2554.5 305.7h1.6v1.6h-1.6zM2558.3 305.7h1.6v1.6h-1.6zM2562.2 305.7h1.6v1.6h-1.6zM2566.1 305.7h1.6v1.6h-1.6zM2570.0 305.7h1.6v1.6h-1.6zM2574.0 305.7h1.6v1.6h-1.6zM2577.9 305.7h1.6v1.6h-1.6zM2581.9 305.7h1.6v1.6h-1.6zM2585.8 305.7h1.6v1.6h-1.6zM2589.7 305.7h1.6v1.6h-1.6zM2593.1 305.7h1.6v1.6h-1.6zM2595.8 305.7h1.6v1.6h-1.6zM2598.6 305.7h1.6v1.6h-1.6zM2601.3 305.7h1.6v1.6h-1.6zM2604.1 305.7h1.6v1.6h-1.6zM2606.8 305.7h1.6v1.6h-1.6zM2609.6 305.7h1.6v1.6h-1.6zM2612.3 305.7h1.6v1.6h-1.6zM2617.4 305.7h1.6v1.6h-1.6zM2624.7 305.7h1.6v1.6h-1.6zM2632.0 305.7h1.6v1.6h-1.6zM2639.3 305.7h1.6v1.6h-1.6zM2646.6 305.7h1.6v1.6h-1.6zM2653.9 305.7h1.6v1.6h-1.6zM2661.2 305.7h1.6v1.6h-1.6zM2668.5 305.7h1.6v1.6h-1.6zM2675.7 305.7h1.6v1.6h-1.6zM2682.6 305.7h1.6v1.6h-1.6zM2689.6 305.7h1.6v1.6h-1.6zM2696.6 305.7h1.6v1.6h-1.6zM2703.5 305.7h1.6v1.6h-1.6zM2710.5 305.7h1.6v1.6h-1.6zM2717.5 305.7h1.6v1.6h-1.6zM2724.4 305.7h1.6v1.6h-1.6zM2730.8 305.7h1.6v1.6h-1.6zM2736.8 305.7h1.6v1.6h-1.6zM2742.6 305.7h1.6v1.6h-1.6zM2748.6 305.7h1.6v1.6h-1.6zM2754.5 305.7h1.6v1.6h-1.6zM2760.3 305.7h1.6v1.6h-1.6zM2766.3 305.7h1.6v1.6h-1.6zM2772.2 305.7h1.6v1.6h-1.6zM2777.7 305.7h1.6v1.6h-1.6zM2783.0 305.7h1.6v1.6h-1.6zM2788.2 305.7h1.6v1.6h-1.6zM2793.4 305.7h1.6v1.6h-1.6zM2798.7 305.7h1.6v1.6h-1.6zM2803.9 305.7h1.6v1.6h-1.6zM2809.1 305.7h1.6v1.6h-1.6zM2814.4 305.7h1.6v1.6h-1.6zM2818.2 305.7h1.6v1.6h-1.6zM2820.5 305.7h1.6v1.6h-1.6zM2822.7 305.7h1.6v1.6h-1.6zM2825.0 305.7h1.6v1.6h-1.6z" fill="#d9473c"/>
<rect x="2310.0" y="310.3" width="517.0" height="3.2" fill="#d9473c"/>
</g>
<g filter="url(#soft)">
<path d="M2298.6 602.5L2104.2 556.8M2104.2 556.8L2002.4 520.0M2104.2 556.8L2204.6 520.0M2002.4 520.0L1942.3 489.7M2002.4 520.0L2061.9 489.7M2204.6 520.0L2158.4 489.7M2204.6 520.0L2252.3 489.7M1942.3 489.7L1913.3 467.0M1942.3 489.7L1969.7 467.0M2061.9 489.7L2031.7 467.0M2061.9 489.7L2093.1 467.0M2158.4 489.7L2139.3 467.0M2158.4 489.7L2177.2 467.0M2252.3 489.7L2229.3 467.0M2252.3 489.7L2273.7 467.0M1913.3 467.0L1902.2 449.5M1913.3 467.0L1923.6 449.5M1969.7 467.0L1951.7 449.5M1969.7 467.0L1989.0 449.5M2031.7 467.0L2017.5 449.5M2031.7 467.0L2045.3 449.5M2093.1 467.0L2075.6 449.5M2093.1 467.0L2111.4 449.5M2139.3 467.0L2126.8 449.5M2139.3 467.0L2149.9 449.5M2177.2 467.0L2168.6 449.5M2177.2 467.0L2188.3 449.5M2229.3 467.0L2215.6 449.5M2229.3 467.0L2242.0 449.5M2273.7 467.0L2260.9 449.5M2273.7 467.0L2288.2 449.5M1902.2 449.5L1901.1 436.4M1902.2 449.5L1907.6 436.4M1923.6 449.5L1918.2 436.4M1923.6 449.5L1930.6 436.4M1951.7 449.5L1944.7 436.4M1951.7 449.5L1961.0 436.4M1989.0 449.5L1979.7 436.4M1989.0 449.5L1996.1 436.4M2017.5 449.5L2010.4 436.4M2017.5 449.5L2024.5 436.4M2045.3 449.5L2038.3 436.4M2045.3 449.5L2052.9 436.4M2075.6 449.5L2068.0 436.4M2075.6 449.5L2084.6 436.4M2111.4 449.5L2102.4 436.4M2111.4 449.5L2115.2 436.4M2126.8 449.5L2123.0 436.4M2126.8 449.5L2132.6 436.4M2149.9 449.5L2144.1 436.4M2149.9 449.5L2154.6 436.4M2168.6 449.5L2163.9 436.4M2168.6 449.5L2173.5 436.4M2188.3 449.5L2183.4 436.4M2188.3 449.5L2195.1 436.4M2215.6 449.5L2208.8 436.4M2215.6 449.5L2222.2 436.4M2242.0 449.5L2235.4 436.4M2242.0 449.5L2246.7 436.4M2260.9 449.5L2256.2 436.4M2260.9 449.5L2267.7 436.4M2288.2 449.5L2281.4 436.4M2288.2 449.5L2294.1 436.4M1901.1 436.4L1900.5 427.6M1901.1 436.4L1901.6 427.6M1907.6 436.4L1904.9 427.6M1907.6 436.4L1910.2 427.6M1918.2 436.4L1915.6 427.6M1918.2 436.4L1920.9 427.6M1930.6 436.4L1927.1 427.6M1930.6 436.4L1934.1 427.6M1944.7 436.4L1941.2 427.6M1944.7 436.4L1948.2 427.6M1961.0 436.4L1956.4 427.6M1961.0 436.4L1965.7 427.6M1979.7 436.4L1975.0 427.6M1979.7 436.4L1984.3 427.6M1996.1 436.4L1992.6 427.6M1996.1 436.4L1999.7 427.6M2010.4 436.4L2006.8 427.6M2010.4 436.4L2013.9 427.6M2024.5 436.4L2021.0 427.6M2024.5 436.4L2027.9 427.6M2038.3 436.4L2034.9 427.6M2038.3 436.4L2041.8 427.6M2052.9 436.4L2049.1 427.6M2052.9 436.4L2056.7 427.6M2068.0 436.4L2064.2 427.6M2068.0 436.4L2071.8 427.6M2084.6 436.4L2080.1 427.6M2084.6 436.4L2089.0 427.6M2102.4 436.4L2098.0 427.6M2102.4 436.4L2106.9 427.6M2115.2 436.4L2113.3 427.6M2115.2 436.4L2117.2 427.6M2123.0 436.4L2121.0 427.6M2123.0 436.4L2124.9 427.6M2132.6 436.4L2129.7 427.6M2132.6 436.4L2135.5 427.6M2144.1 436.4L2141.2 427.6M2144.1 436.4L2147.0 427.6M2154.6 436.4L2152.2 427.6M2154.6 436.4L2156.9 427.6M2163.9 436.4L2161.6 427.6M2163.9 436.4L2166.3 427.6M2173.5 436.4L2171.1 427.6M2173.5 436.4L2176.0 427.6M2183.4 436.4L2180.9 427.6M2183.4 436.4L2185.8 427.6M2195.1 436.4L2191.7 427.6M2195.1 436.4L2198.5 427.6M2208.8 436.4L2205.4 427.6M2208.8 436.4L2212.2 427.6M2222.2 436.4L2218.9 427.6M2222.2 436.4L2225.5 427.6M2235.4 436.4L2232.1 427.6M2235.4 436.4L2238.7 427.6M2246.7 436.4L2244.4 427.6M2246.7 436.4L2249.1 427.6M2256.2 436.4L2253.8 427.6M2256.2 436.4L2258.5 427.6M2267.7 436.4L2264.3 427.6M2267.7 436.4L2271.1 427.6M2281.4 436.4L2278.0 427.6M2281.4 436.4L2284.8 427.6M2294.1 436.4L2291.1 427.6M2294.1 436.4L2297.1 427.6M1900.5 427.6L1900.3 421.8M1900.5 427.6L1900.8 421.8M1901.6 427.6L1901.4 421.8M1901.6 427.6L1901.9 421.8M1904.9 427.6L1903.5 421.8M1904.9 427.6L1906.2 421.8M1910.2 427.6L1908.9 421.8M1910.2 427.6L1911.6 421.8M1915.6 427.6L1914.2 421.8M1915.6 427.6L1916.9 421.8M1920.9 427.6L1919.6 421.8M1920.9 427.6L1922.3 421.8M1927.1 427.6L1925.4 421.8M1927.1 427.6L1928.9 421.8M1934.1 427.6L1932.4 421.8M1934.1 427.6L1935.9 421.8M1941.2 427.6L1939.4 421.8M1941.2 427.6L1942.9 421.8M1948.2 427.6L1946.4 421.8M1948.2 427.6L1949.9 421.8M1956.4 427.6L1954.0 421.8M1956.4 427.6L1958.7 421.8M1965.7 427.6L1963.4 421.8M1965.7 427.6L1968.0 421.8M1975.0 427.6L1972.7 421.8M1975.0 427.6L1977.3 421.8M1984.3 427.6L1982.0 421.8M1984.3 427.6L1986.7 421.8M1992.6 427.6L1990.8 421.8M1992.6 427.6L1994.3 421.8M1999.7 427.6L1997.9 421.8M1999.7 427.6L2001.5 421.8M2006.8 427.6L2005.0 421.8M2006.8 427.6L2008.6 421.8M2013.9 427.6L2012.2 421.8M2013.9 427.6L2015.7 421.8M2021.0 427.6L2019.2 421.8M2021.0 427.6L2022.7 421.8M2027.9 427.6L2026.2 421.8M2027.9 427.6L2029.7 421.8M2034.9 427.6L2033.1 421.8M2034.9 427.6L2036.6 421.8M2041.8 427.6L2040.1 421.8M2041.8 427.6L2043.6 421.8M2049.1 427.6L2047.2 421.8M2049.1 427.6L2051.0 421.8M2056.7 427.6L2054.8 421.8M2056.7 427.6L2058.6 421.8M2064.2 427.6L2062.3 421.8M2064.2 427.6L2066.1 421.8M2071.8 427.6L2069.9 421.8M2071.8 427.6L2073.7 421.8M2080.1 427.6L2077.8 421.8M2080.1 427.6L2082.3 421.8M2089.0 427.6L2086.8 421.8M2089.0 427.6L2091.3 421.8M2098.0 427.6L2095.7 421.8M2098.0 427.6L2100.2 421.8M2106.9 427.6L2104.7 421.8M2106.9 427.6L2109.2 421.8M2113.3 427.6L2112.4 421.8M2113.3 427.6L2114.3 421.8M2117.2 427.6L2116.2 421.8M2117.2 427.6L2118.1 421.8M2121.0 427.6L2120.1 421.8M2121.0 427.6L2122.0 421.8M2124.9 427.6L2123.9 421.8M2124.9 427.6L2125.8 421.8M2129.7 427.6L2128.2 421.8M2129.7 427.6L2131.1 421.8M2135.5 427.6L2134.0 421.8M2135.5 427.6L2136.9 421.8M2141.2 427.6L2139.8 421.8M2141.2 427.6L2142.7 421.8M2147.0 427.6L2145.6 421.8M2147.0 427.6L2148.5 421.8M2152.2 427.6L2151.1 421.8M2152.2 427.6L2153.4 421.8M2156.9 427.6L2155.7 421.8M2156.9 427.6L2158.1 421.8M2161.6 427.6L2160.4 421.8M2161.6 427.6L2162.8 421.8M2166.3 427.6L2165.1 421.8M2166.3 427.6L2167.4 421.8M2171.1 427.6L2169.8 421.8M2171.1 427.6L2172.3 421.8M2176.0 427.6L2174.8 421.8M2176.0 427.6L2177.2 421.8M2180.9 427.6L2179.7 421.8M2180.9 427.6L2182.1 421.8M2185.8 427.6L2184.6 421.8M2185.8 427.6L2187.1 421.8M2191.7 427.6L2190.0 421.8M2191.7 427.6L2193.4 421.8M2198.5 427.6L2196.8 421.8M2198.5 427.6L2200.2 421.8M2205.4 427.6L2203.7 421.8M2205.4 427.6L2207.1 421.8M2212.2 427.6L2210.5 421.8M2212.2 427.6L2213.9 421.8M2218.9 427.6L2217.2 421.8M2218.9 427.6L2220.5 421.8M2225.5 427.6L2223.8 421.8M2225.5 427.6L2227.2 421.8M2232.1 427.6L2230.5 421.8M2232.1 427.6L2233.8 421.8M2238.7 427.6L2237.0 421.8M2238.7 427.6L2240.3 421.8M2244.4 427.6L2243.2 421.8M2244.4 427.6L2245.5 421.8M2249.1 427.6L2247.9 421.8M2249.1 427.6L2250.3 421.8M2253.8 427.6L2252.6 421.8M2253.8 427.6L2255.0 421.8M2258.5 427.6L2257.4 421.8M2258.5 427.6L2259.7 421.8M2264.3 427.6L2262.6 421.8M2264.3 427.6L2266.0 421.8M2271.1 427.6L2269.4 421.8M2271.1 427.6L2272.8 421.8M2278.0 427.6L2276.3 421.8M2278.0 427.6L2279.7 421.8M2284.8 427.6L2283.1 421.8M2284.8 427.6L2286.5 421.8M2291.1 427.6L2289.7 421.8M2291.1 427.6L2292.6 421.8M2297.1 427.6L2295.6 421.8M2297.1 427.6L2298.5 421.8M1900.3 421.8L1900.1 418.5M1900.3 421.8L1900.4 418.5M1900.8 421.8L1900.7 418.5M1900.8 421.8L1901.0 418.5M1901.4 421.8L1901.2 418.5M1901.4 421.8L1901.5 418.5M1901.9 421.8L1901.8 418.5M1901.9 421.8L1902.1 418.5M1903.5 421.8L1902.9 418.5M1903.5 421.8L1904.2 418.5M1906.2 421.8L1905.5 418.5M1906.2 421.8L1906.9 418.5M1908.9 421.8L1908.2 418.5M1908.9 421.8L1909.6 418.5M1911.6 421.8L1910.9 418.5M1911.6 421.8L1912.2 418.5M1914.2 421.8L1913.6 418.5M1914.2 421.8L1914.9 418.5M1916.9 421.8L1916.2 418.5M1916.9 421.8L1917.6 418.5M1919.6 421.8L1918.9 418.5M1919.6 421.8L1920.3 418.5M1922.3 421.8L1921.6 418.5M1922.3 421.8L1922.9 418.5M1925.4 421.8L1924.5 418.5M1925.4 421.8L1926.2 418.5M1928.9 421.8L1928.0 418.5M1928.9 421.8L1929.7 418.5M1932.4 421.8L1931.5 418.5M1932.4 421.8L1933.3 418.5M1935.9 421.8L1935.0 418.5M1935.9 421.8L1936.8 418.5M1939.4 421.8L1938.5 418.5M1939.4 421.8L1940.3 418.5M1942.9 421.8L1942.0 418.5M1942.9 421.8L1943.8 418.5M1946.4 421.8L1945.6 418.5M1946.4 421.8L1947.3 418.5M1949.9 421.8L1949.1 418.5M1949.9 421.8L1950.8 418.5M1954.0 421.8L1952.9 418.5M1954.0 421.8L1955.2 418.5M1958.7 421.8L1957.5 418.5M1958.7 421.8L1959.9 418.5M1963.4 421.8L1962.2 418.5M1963.4 421.8L1964.5 418.5M1968.0 421.8L1966.9 418.5M1968.0 421.8L1969.2 418.5M1972.7 421.8L1971.5 418.5M1972.7 421.8L1973.8 418.5M1977.3 421.8L1976.2 418.5M1977.3 421.8L1978.5 418.5M1982.0 421.8L1980.8 418.5M1982.0 421.8L1983.2 418.5M1986.7 421.8L1985.5 418.5M1986.7 421.8L1987.8 418.5M1990.8 421.8L1989.9 418.5M1990.8 421.8L1991.7 418.5M1994.3 421.8L1993.5 418.5M1994.3 421.8L1995.2 418.5M1997.9 421.8L1997.0 418.5M1997.9 421.8L1998.8 418.5M2001.5 421.8L2000.6 418.5M2001.5 421.8L2002.4 418.5M2005.0 421.8L2004.1 418.5M2005.0 421.8L2005.9 418.5M2008.6 421.8L2007.7 418.5M2008.6 421.8L2009.5 418.5M2012.2 421.8L2011.3 418.5M2012.2 421.8L2013.0 418.5M2015.7 421.8L2014.8 418.5M2015.7 421.8L2016.6 418.5M2019.2 421.8L2018.4 418.5M2019.2 421.8L2020.1 418.5M2022.7 421.8L2021.8 418.5M2022.7 421.8L2023.6 418.5M2026.2 421.8L2025.3 418.5M2026.2 421.8L2027.1 418.5M2029.7 421.8L2028.8 418.5M2029.7 421.8L2030.5 418.5M2033.1 421.8L2032.3 418.5M2033.1 421.8L2034.0 418.5M2036.6 421.8L2035.7 418.5M2036.6 421.8L2037.5 418.5M2040.1 421.8L2039.2 418.5M2040.1 421.8L2041.0 418.5M2043.6 421.8L2042.7 418.5M2043.6 421.8L2044.4 418.5M2047.2 421.8L2046.2 418.5M2047.2 421.8L2048.1 418.5M2051.0 421.8L2050.0 418.5M2051.0 421.8L2051.9 418.5M2054.8 421.8L2053.8 418.5M2054.8 421.8L2055.7 418.5M2058.6 421.8L2057.6 418.5M2058.6 421.8L2059.5 418.5M2062.3 421.8L2061.4 418.5M2062.3 421.8L2063.3 418.5M2066.1 421.8L2065.2 418.5M2066.1 421.8L2067.1 418.5M2069.9 421.8L2069.0 418.5M2069.9 421.8L2070.9 418.5M2073.7 421.8L2072.8 418.5M2073.7 421.8L2074.7 418.5M2077.8 421.8L2076.7 418.5M2077.8 421.8L2079.0 418.5M2082.3 421.8L2081.2 418.5M2082.3 421.8L2083.4 418.5M2086.8 421.8L2085.7 418.5M2086.8 421.8L2087.9 418.5M2091.3 421.8L2090.1 418.5M2091.3 421.8L2092.4 418.5M2095.7 421.8L2094.6 418.5M2095.7 421.8L2096.9 418.5M2100.2 421.8L2099.1 418.5M2100.2 421.8L2101.3 418.5M2104.7 421.8L2103.6 418.5M2104.7 421.8L2105.8 418.5M2109.2 421.8L2108.0 418.5M2109.2 421.8L2110.3 418.5M2112.4 421.8L2111.9 418.5M2112.4 421.8L2112.8 418.5M2114.3 421.8L2113.8 418.5M2114.3 421.8L2114.8 418.5M2116.2 421.8L2115.7 418.5M2116.2 421.8L2116.7 418.5M2118.1 421.8L2117.7 418.5M2118.1 421.8L2118.6 418.5M2120.1 421.8L2119.6 418.5M2120.1 421.8L2120.5 418.5M2122.0 421.8L2121.5 418.5M2122.0 421.8L2122.5 418.5M2123.9 421.8L2123.4 418.5M2123.9 421.8L2124.4 418.5M2125.8 421.8L2125.4 418.5M2125.8 421.8L2126.3 418.5M2128.2 421.8L2127.5 418.5M2128.2 421.8L2129.0 418.5M2131.1 421.8L2130.4 418.5M2131.1 421.8L2131.9 418.5M2134.0 421.8L2133.3 418.5M2134.0 421.8L2134.7 418.5M2136.9 421.8L2136.2 418.5M2136.9 421.8L2137.6 418.5M2139.8 421.8L2139.1 418.5M2139.8 421.8L2140.5 418.5M2142.7 421.8L2142.0 418.5M2142.7 421.8L2143.4 418.5M2145.6 421.8L2144.8 418.5M2145.6 421.8L2146.3 418.5M2148.5 421.8L2147.7 418.5M2148.5 421.8L2149.2 418.5M2151.1 421.8L2150.5 418.5M2151.1 421.8L2151.7 418.5M2153.4 421.8L2152.8 418.5M2153.4 421.8L2154.0 418.5M2155.7 421.8L2155.2 418.5M2155.7 421.8L2156.3 418.5M2158.1 421.8L2157.5 418.5M2158.1 421.8L2158.7 418.5M2160.4 421.8L2159.8 418.5M2160.4 421.8L2161.0 418.5M2162.8 421.8L2162.2 418.5M2162.8 421.8L2163.3 418.5M2165.1 421.8L2164.5 418.5M2165.1 421.8L2165.7 418.5M2167.4 421.8L2166.8 418.5M2167.4 421.8L2168.0 418.5M2169.8 421.8L2169.2 418.5M2169.8 421.8L2170.4 418.5M2172.3 421.8L2171.7 418.5M2172.3 421.8L2172.9 418.5M2174.8 421.8L2174.1 418.5M2174.8 421.8L2175.4 418.5M2177.2 421.8L2176.6 418.5M2177.2 421.8L2177.8 418.5M2179.7 421.8L2179.1 418.5M2179.7 421.8L2180.3 418.5M2182.1 421.8L2181.5 418.5M2182.1 421.8L2182.8 418.5M2184.6 421.8L2184.0 418.5M2184.6 421.8L2185.2 418.5M2187.1 421.8L2186.5 418.5M2187.1 421.8L2187.7 418.5M2190.0 421.8L2189.2 418.5M2190.0 421.8L2190.9 418.5M2193.4 421.8L2192.6 418.5M2193.4 421.8L2194.3 418.5M2196.8 421.8L2196.0 418.5M2196.8 421.8L2197.7 418.5M2200.2 421.8L2199.4 418.5M2200.2 421.8L2201.1 418.5M2203.7 421.8L2202.8 418.5M2203.7 421.8L2204.5 418.5M2207.1 421.8L2206.2 418.5M2207.1 421.8L2207.9 418.5M2210.5 421.8L2209.6 418.5M2210.5 421.8L2211.3 418.5M2213.9 421.8L2213.0 418.5M2213.9 421.8L2214.7 418.5M2217.2 421.8L2216.4 418.5M2217.2 421.8L2218.1 418.5M2220.5 421.8L2219.7 418.5M2220.5 421.8L2221.4 418.5M2223.8 421.8L2223.0 418.5M2223.8 421.8L2224.7 418.5M2227.2 421.8L2226.3 418.5M2227.2 421.8L2228.0 418.5M2230.5 421.8L2229.6 418.5M2230.5 421.8L2231.3 418.5M2233.8 421.8L2232.9 418.5M2233.8 421.8L2234.6 418.5M2237.0 421.8L2236.2 418.5M2237.0 421.8L2237.9 418.5M2240.3 421.8L2239.5 418.5M2240.3 421.8L2241.2 418.5M2243.2 421.8L2242.6 418.5M2243.2 421.8L2243.8 418.5M2245.5 421.8L2245.0 418.5M2245.5 421.8L2246.1 418.5M2247.9 421.8L2247.3 418.5M2247.9 421.8L2248.5 418.5M2250.3 421.8L2249.7 418.5M2250.3 421.8L2250.9 418.5M2252.6 421.8L2252.0 418.5M2252.6 421.8L2253.2 418.5M2255.0 421.8L2254.4 418.5M2255.0 421.8L2255.6 418.5M2257.4 421.8L2256.8 418.5M2257.4 421.8L2257.9 418.5M2259.7 421.8L2259.1 418.5M2259.7 421.8L2260.3 418.5M2262.6 421.8L2261.8 418.5M2262.6 421.8L2263.5 418.5M2266.0 421.8L2265.2 418.5M2266.0 421.8L2266.9 418.5M2269.4 421.8L2268.6 418.5M2269.4 421.8L2270.3 418.5M2272.8 421.8L2272.0 418.5M2272.8 421.8L2273.7 418.5M2276.3 421.8L2275.4 418.5M2276.3 421.8L2277.1 418.5M2279.7 421.8L2278.8 418.5M2279.7 421.8L2280.5 418.5M2283.1 421.8L2282.2 418.5M2283.1 421.8L2283.9 418.5M2286.5 421.8L2285.6 418.5M2286.5 421.8L2287.3 418.5M2289.7 421.8L2288.9 418.5M2289.7 421.8L2290.4 418.5M2292.6 421.8L2291.9 418.5M2292.6 421.8L2293.4 418.5M2295.6 421.8L2294.8 418.5M2295.6 421.8L2296.3 418.5M2298.5 421.8L2297.8 418.5M2298.5 421.8L2299.3 418.5" stroke="#4b4898" stroke-width="1.15" fill="none"/>
<path d="M2103.0 555.6h2.4v2.4h-2.4zM2001.2 518.8h2.4v2.4h-2.4zM2203.4 518.8h2.4v2.4h-2.4zM1941.1 488.5h2.4v2.4h-2.4zM2060.7 488.5h2.4v2.4h-2.4zM2157.2 488.5h2.4v2.4h-2.4zM2251.1 488.5h2.4v2.4h-2.4zM1912.1 465.8h2.4v2.4h-2.4zM1968.5 465.8h2.4v2.4h-2.4zM2030.5 465.8h2.4v2.4h-2.4zM2091.9 465.8h2.4v2.4h-2.4zM2138.1 465.8h2.4v2.4h-2.4zM2176.0 465.8h2.4v2.4h-2.4zM2228.1 465.8h2.4v2.4h-2.4zM2272.5 465.8h2.4v2.4h-2.4zM1901.0 448.3h2.4v2.4h-2.4zM1922.4 448.3h2.4v2.4h-2.4zM1950.5 448.3h2.4v2.4h-2.4zM1987.8 448.3h2.4v2.4h-2.4zM2016.3 448.3h2.4v2.4h-2.4zM2044.1 448.3h2.4v2.4h-2.4zM2074.4 448.3h2.4v2.4h-2.4zM2110.2 448.3h2.4v2.4h-2.4zM2125.6 448.3h2.4v2.4h-2.4zM2148.7 448.3h2.4v2.4h-2.4zM2167.4 448.3h2.4v2.4h-2.4zM2187.1 448.3h2.4v2.4h-2.4zM2214.4 448.3h2.4v2.4h-2.4zM2240.8 448.3h2.4v2.4h-2.4zM2259.7 448.3h2.4v2.4h-2.4zM2287.0 448.3h2.4v2.4h-2.4zM1899.9 435.2h2.4v2.4h-2.4zM1906.4 435.2h2.4v2.4h-2.4zM1917.0 435.2h2.4v2.4h-2.4zM1929.4 435.2h2.4v2.4h-2.4zM1943.5 435.2h2.4v2.4h-2.4zM1959.8 435.2h2.4v2.4h-2.4zM1978.5 435.2h2.4v2.4h-2.4zM1994.9 435.2h2.4v2.4h-2.4zM2009.2 435.2h2.4v2.4h-2.4zM2023.2 435.2h2.4v2.4h-2.4zM2037.1 435.2h2.4v2.4h-2.4zM2051.7 435.2h2.4v2.4h-2.4zM2066.8 435.2h2.4v2.4h-2.4zM2083.4 435.2h2.4v2.4h-2.4zM2101.2 435.2h2.4v2.4h-2.4zM2114.1 435.2h2.4v2.4h-2.4zM2121.8 435.2h2.4v2.4h-2.4zM2131.4 435.2h2.4v2.4h-2.4zM2142.9 435.2h2.4v2.4h-2.4zM2153.4 435.2h2.4v2.4h-2.4zM2162.7 435.2h2.4v2.4h-2.4zM2172.3 435.2h2.4v2.4h-2.4zM2182.2 435.2h2.4v2.4h-2.4zM2193.9 435.2h2.4v2.4h-2.4zM2207.6 435.2h2.4v2.4h-2.4zM2221.0 435.2h2.4v2.4h-2.4zM2234.2 435.2h2.4v2.4h-2.4zM2245.5 435.2h2.4v2.4h-2.4zM2255.0 435.2h2.4v2.4h-2.4zM2266.5 435.2h2.4v2.4h-2.4zM2280.2 435.2h2.4v2.4h-2.4zM2292.9 435.2h2.4v2.4h-2.4zM1899.8 426.8h1.6v1.6h-1.6zM1900.8 426.8h1.6v1.6h-1.6zM1904.1 426.8h1.6v1.6h-1.6zM1909.4 426.8h1.6v1.6h-1.6zM1914.8 426.8h1.6v1.6h-1.6zM1920.1 426.8h1.6v1.6h-1.6zM1926.3 426.8h1.6v1.6h-1.6zM1933.3 426.8h1.6v1.6h-1.6zM1940.4 426.8h1.6v1.6h-1.6zM1947.4 426.8h1.6v1.6h-1.6zM1955.6 426.8h1.6v1.6h-1.6zM1964.9 426.8h1.6v1.6h-1.6zM1974.2 426.8h1.6v1.6h-1.6zM1983.5 426.8h1.6v1.6h-1.6zM1991.8 426.8h1.6v1.6h-1.6zM1998.9 426.8h1.6v1.6h-1.6zM2006.0 426.8h1.6v1.6h-1.6zM2013.1 426.8h1.6v1.6h-1.6zM2020.2 426.8h1.6v1.6h-1.6zM2027.1 426.8h1.6v1.6h-1.6zM2034.1 426.8h1.6v1.6h-1.6zM2041.0 426.8h1.6v1.6h-1.6zM2048.3 426.8h1.6v1.6h-1.6zM2055.9 426.8h1.6v1.6h-1.6zM2063.4 426.8h1.6v1.6h-1.6zM2071.0 426.8h1.6v1.6h-1.6zM2079.3 426.8h1.6v1.6h-1.6zM2088.2 426.8h1.6v1.6h-1.6zM2097.2 426.8h1.6v1.6h-1.6zM2106.1 426.8h1.6v1.6h-1.6zM2112.5 426.8h1.6v1.6h-1.6zM2116.4 426.8h1.6v1.6h-1.6zM2120.2 426.8h1.6v1.6h-1.6zM2124.1 426.8h1.6v1.6h-1.6zM2128.9 426.8h1.6v1.6h-1.6zM2134.7 426.8h1.6v1.6h-1.6zM2140.4 426.8h1.6v1.6h-1.6zM2146.2 426.8h1.6v1.6h-1.6zM2151.4 426.8h1.6v1.6h-1.6zM2156.1 426.8h1.6v1.6h-1.6zM2160.8 426.8h1.6v1.6h-1.6zM2165.5 426.8h1.6v1.6h-1.6zM2170.3 426.8h1.6v1.6h-1.6zM2175.2 426.8h1.6v1.6h-1.6zM2180.1 426.8h1.6v1.6h-1.6zM2185.0 426.8h1.6v1.6h-1.6zM2190.9 426.8h1.6v1.6h-1.6zM2197.7 426.8h1.6v1.6h-1.6zM2204.6 426.8h1.6v1.6h-1.6zM2211.4 426.8h1.6v1.6h-1.6zM2218.1 426.8h1.6v1.6h-1.6zM2224.7 426.8h1.6v1.6h-1.6zM2231.3 426.8h1.6v1.6h-1.6zM2237.9 426.8h1.6v1.6h-1.6zM2243.6 426.8h1.6v1.6h-1.6zM2248.3 426.8h1.6v1.6h-1.6zM2253.0 426.8h1.6v1.6h-1.6zM2257.7 426.8h1.6v1.6h-1.6zM2263.5 426.8h1.6v1.6h-1.6zM2270.3 426.8h1.6v1.6h-1.6zM2277.2 426.8h1.6v1.6h-1.6zM2284.0 426.8h1.6v1.6h-1.6zM2290.3 426.8h1.6v1.6h-1.6zM2296.2 426.8h1.6v1.6h-1.6zM1899.5 421.0h1.6v1.6h-1.6zM1900.0 421.0h1.6v1.6h-1.6zM1900.6 421.0h1.6v1.6h-1.6zM1901.1 421.0h1.6v1.6h-1.6zM1902.7 421.0h1.6v1.6h-1.6zM1905.4 421.0h1.6v1.6h-1.6zM1908.1 421.0h1.6v1.6h-1.6zM1910.8 421.0h1.6v1.6h-1.6zM1913.4 421.0h1.6v1.6h-1.6zM1916.1 421.0h1.6v1.6h-1.6zM1918.8 421.0h1.6v1.6h-1.6zM1921.5 421.0h1.6v1.6h-1.6zM1924.6 421.0h1.6v1.6h-1.6zM1928.1 421.0h1.6v1.6h-1.6zM1931.6 421.0h1.6v1.6h-1.6zM1935.1 421.0h1.6v1.6h-1.6zM1938.6 421.0h1.6v1.6h-1.6zM1942.1 421.0h1.6v1.6h-1.6zM1945.6 421.0h1.6v1.6h-1.6zM1949.1 421.0h1.6v1.6h-1.6zM1953.2 421.0h1.6v1.6h-1.6zM1957.9 421.0h1.6v1.6h-1.6zM1962.6 421.0h1.6v1.6h-1.6zM1967.2 421.0h1.6v1.6h-1.6zM1971.9 421.0h1.6v1.6h-1.6zM1976.5 421.0h1.6v1.6h-1.6zM1981.2 421.0h1.6v1.6h-1.6zM1985.9 421.0h1.6v1.6h-1.6zM1990.0 421.0h1.6v1.6h-1.6zM1993.5 421.0h1.6v1.6h-1.6zM1997.1 421.0h1.6v1.6h-1.6zM2000.7 421.0h1.6v1.6h-1.6zM2004.2 421.0h1.6v1.6h-1.6zM2007.8 421.0h1.6v1.6h-1.6zM2011.4 421.0h1.6v1.6h-1.6zM2014.9 421.0h1.6v1.6h-1.6zM2018.4 421.0h1.6v1.6h-1.6zM2021.9 421.0h1.6v1.6h-1.6zM2025.4 421.0h1.6v1.6h-1.6zM2028.9 421.0h1.6v1.6h-1.6zM2032.3 421.0h1.6v1.6h-1.6zM2035.8 421.0h1.6v1.6h-1.6zM2039.3 421.0h1.6v1.6h-1.6zM2042.8 421.0h1.6v1.6h-1.6zM2046.4 421.0h1.6v1.6h-1.6zM2050.2 421.0h1.6v1.6h-1.6zM2054.0 421.0h1.6v1.6h-1.6zM2057.8 421.0h1.6v1.6h-1.6zM2061.5 421.0h1.6v1.6h-1.6zM2065.3 421.0h1.6v1.6h-1.6zM2069.1 421.0h1.6v1.6h-1.6zM2072.9 421.0h1.6v1.6h-1.6zM2077.0 421.0h1.6v1.6h-1.6zM2081.5 421.0h1.6v1.6h-1.6zM2086.0 421.0h1.6v1.6h-1.6zM2090.5 421.0h1.6v1.6h-1.6zM2094.9 421.0h1.6v1.6h-1.6zM2099.4 421.0h1.6v1.6h-1.6zM2103.9 421.0h1.6v1.6h-1.6zM2108.4 421.0h1.6v1.6h-1.6zM2111.6 421.0h1.6v1.6h-1.6zM2113.5 421.0h1.6v1.6h-1.6zM2115.4 421.0h1.6v1.6h-1.6zM2117.3 421.0h1.6v1.6h-1.6zM2119.3 421.0h1.6v1.6h-1.6zM2121.2 421.0h1.6v1.6h-1.6zM2123.1 421.0h1.6v1.6h-1.6zM2125.0 421.0h1.6v1.6h-1.6zM2127.4 421.0h1.6v1.6h-1.6zM2130.3 421.0h1.6v1.6h-1.6zM2133.2 421.0h1.6v1.6h-1.6zM2136.1 421.0h1.6v1.6h-1.6zM2139.0 421.0h1.6v1.6h-1.6zM2141.9 421.0h1.6v1.6h-1.6zM2144.8 421.0h1.6v1.6h-1.6zM2147.7 421.0h1.6v1.6h-1.6zM2150.3 421.0h1.6v1.6h-1.6zM2152.6 421.0h1.6v1.6h-1.6zM2154.9 421.0h1.6v1.6h-1.6zM2157.3 421.0h1.6v1.6h-1.6zM2159.6 421.0h1.6v1.6h-1.6zM2162.0 421.0h1.6v1.6h-1.6zM2164.3 421.0h1.6v1.6h-1.6zM2166.6 421.0h1.6v1.6h-1.6zM2169.0 421.0h1.6v1.6h-1.6zM2171.5 421.0h1.6v1.6h-1.6zM2174.0 421.0h1.6v1.6h-1.6zM2176.4 421.0h1.6v1.6h-1.6zM2178.9 421.0h1.6v1.6h-1.6zM2181.3 421.0h1.6v1.6h-1.6zM2183.8 421.0h1.6v1.6h-1.6zM2186.3 421.0h1.6v1.6h-1.6zM2189.2 421.0h1.6v1.6h-1.6zM2192.6 421.0h1.6v1.6h-1.6zM2196.0 421.0h1.6v1.6h-1.6zM2199.4 421.0h1.6v1.6h-1.6zM2202.9 421.0h1.6v1.6h-1.6zM2206.3 421.0h1.6v1.6h-1.6zM2209.7 421.0h1.6v1.6h-1.6zM2213.1 421.0h1.6v1.6h-1.6zM2216.4 421.0h1.6v1.6h-1.6zM2219.7 421.0h1.6v1.6h-1.6zM2223.0 421.0h1.6v1.6h-1.6zM2226.3 421.0h1.6v1.6h-1.6zM2229.7 421.0h1.6v1.6h-1.6zM2233.0 421.0h1.6v1.6h-1.6zM2236.2 421.0h1.6v1.6h-1.6zM2239.5 421.0h1.6v1.6h-1.6zM2242.4 421.0h1.6v1.6h-1.6zM2244.7 421.0h1.6v1.6h-1.6zM2247.1 421.0h1.6v1.6h-1.6zM2249.5 421.0h1.6v1.6h-1.6zM2251.8 421.0h1.6v1.6h-1.6zM2254.2 421.0h1.6v1.6h-1.6zM2256.6 421.0h1.6v1.6h-1.6zM2258.9 421.0h1.6v1.6h-1.6zM2261.8 421.0h1.6v1.6h-1.6zM2265.2 421.0h1.6v1.6h-1.6zM2268.6 421.0h1.6v1.6h-1.6zM2272.0 421.0h1.6v1.6h-1.6zM2275.5 421.0h1.6v1.6h-1.6zM2278.9 421.0h1.6v1.6h-1.6zM2282.3 421.0h1.6v1.6h-1.6zM2285.7 421.0h1.6v1.6h-1.6zM2288.9 421.0h1.6v1.6h-1.6zM2291.8 421.0h1.6v1.6h-1.6zM2294.8 421.0h1.6v1.6h-1.6zM2297.7 421.0h1.6v1.6h-1.6z" fill="#4b4898"/>
<rect x="1900.0" y="416.0" width="400.0" height="3.3" fill="#4b4898"/>
</g>
<g filter="url(#soft)">
<path d="M2298.6 602.5L2557.6 556.0M2557.6 556.0L2413.6 519.4M2557.6 556.0L2706.2 519.4M2413.6 519.4L2356.5 489.4M2413.6 519.4L2472.0 489.4M2706.2 519.4L2630.5 489.4M2706.2 519.4L2784.2 489.4M2356.5 489.4L2328.0 467.5M2356.5 489.4L2383.5 467.5M2472.0 489.4L2448.7 467.5M2472.0 489.4L2496.7 467.5M2630.5 489.4L2586.0 467.5M2630.5 489.4L2671.7 467.5M2784.2 489.4L2756.6 467.5M2784.2 489.4L2813.6 467.5M2328.0 467.5L2310.0 449.5M2328.0 467.5L2344.5 449.5M2383.5 467.5L2370.0 449.5M2383.5 467.5L2395.5 449.5M2448.7 467.5L2430.0 449.5M2448.7 467.5L2460.0 449.5M2496.7 467.5L2479.6 449.5M2496.7 467.5L2512.6 449.5M2586.0 467.5L2566.6 449.5M2586.0 467.5L2605.6 449.5M2671.7 467.5L2650.6 449.5M2671.7 467.5L2697.0 449.5M2756.6 467.5L2734.7 449.5M2756.6 467.5L2773.7 449.5M2813.6 467.5L2803.7 449.5M2813.6 467.5L2823.2 449.5M2310.0 449.5L2305.0 436.4M2310.0 449.5L2318.6 436.4M2344.5 449.5L2335.9 436.4M2344.5 449.5L2350.9 436.4M2370.0 449.5L2363.6 436.4M2370.0 449.5L2376.4 436.4M2395.5 449.5L2389.1 436.4M2395.5 449.5L2404.1 436.4M2430.0 449.5L2421.4 436.4M2430.0 449.5L2437.5 436.4M2460.0 449.5L2452.5 436.4M2460.0 449.5L2464.9 436.4M2479.6 449.5L2474.7 436.4M2479.6 449.5L2487.8 436.4M2512.6 449.5L2504.3 436.4M2512.6 449.5L2526.1 436.4M2566.6 449.5L2553.1 436.4M2566.6 449.5L2576.3 436.4M2605.6 449.5L2595.8 436.4M2605.6 449.5L2616.8 436.4M2650.6 449.5L2639.3 436.4M2650.6 449.5L2662.2 436.4M2697.0 449.5L2685.4 436.4M2697.0 449.5L2706.4 436.4M2734.7 449.5L2725.3 436.4M2734.7 449.5L2744.4 436.4M2773.7 449.5L2763.9 436.4M2773.7 449.5L2781.2 436.4M2803.7 449.5L2796.2 436.4M2803.7 449.5L2808.6 436.4M2823.2 449.5L2818.3 436.4M2823.2 449.5L2823.6 436.4M2305.0 436.4L2302.5 427.6M2305.0 436.4L2307.5 427.6M2318.6 436.4L2314.3 427.6M2318.6 436.4L2322.9 427.6M2335.9 436.4L2331.6 427.6M2335.9 436.4L2340.2 427.6M2350.9 436.4L2347.7 427.6M2350.9 436.4L2354.1 427.6M2363.6 436.4L2360.4 427.6M2363.6 436.4L2366.8 427.6M2376.4 436.4L2373.2 427.6M2376.4 436.4L2379.6 427.6M2389.1 436.4L2385.9 427.6M2389.1 436.4L2392.3 427.6M2404.1 436.4L2399.8 427.6M2404.1 436.4L2408.4 427.6M2421.4 436.4L2417.1 427.6M2421.4 436.4L2425.7 427.6M2437.5 436.4L2433.8 427.6M2437.5 436.4L2441.2 427.6M2452.5 436.4L2448.8 427.6M2452.5 436.4L2456.2 427.6M2464.9 436.4L2462.4 427.6M2464.9 436.4L2467.4 427.6M2474.7 436.4L2472.2 427.6M2474.7 436.4L2477.1 427.6M2487.8 436.4L2483.7 427.6M2487.8 436.4L2492.0 427.6M2504.3 436.4L2500.2 427.6M2504.3 436.4L2508.5 427.6M2526.1 436.4L2519.3 427.6M2526.1 436.4L2532.8 427.6M2553.1 436.4L2546.3 427.6M2553.1 436.4L2559.8 427.6M2576.3 436.4L2571.5 427.6M2576.3 436.4L2581.2 427.6M2595.8 436.4L2591.0 427.6M2595.8 436.4L2600.7 427.6M2616.8 436.4L2611.2 427.6M2616.8 436.4L2622.5 427.6M2639.3 436.4L2633.7 427.6M2639.3 436.4L2645.0 427.6M2662.2 436.4L2656.4 427.6M2662.2 436.4L2668.0 427.6M2685.4 436.4L2679.6 427.6M2685.4 436.4L2691.2 427.6M2706.4 436.4L2701.7 427.6M2706.4 436.4L2711.1 427.6M2725.3 436.4L2720.6 427.6M2725.3 436.4L2730.0 427.6M2744.4 436.4L2739.6 427.6M2744.4 436.4L2749.3 427.6M2763.9 436.4L2759.1 427.6M2763.9 436.4L2768.8 427.6M2781.2 436.4L2777.4 427.6M2781.2 436.4L2784.9 427.6M2796.2 436.4L2792.4 427.6M2796.2 436.4L2799.9 427.6M2808.6 436.4L2806.1 427.6M2808.6 436.4L2811.0 427.6M2818.3 436.4L2815.9 427.6M2818.3 436.4L2820.8 427.6M2823.6 436.4L2823.4 427.6M2823.6 436.4L2823.8 427.6M2302.5 427.6L2301.2 421.8M2302.5 427.6L2303.8 421.8M2307.5 427.6L2306.2 421.8M2307.5 427.6L2308.8 421.8M2314.3 427.6L2312.2 421.8M2314.3 427.6L2316.5 421.8M2322.9 427.6L2320.8 421.8M2322.9 427.6L2325.1 421.8M2331.6 427.6L2329.4 421.8M2331.6 427.6L2333.7 421.8M2340.2 427.6L2338.0 421.8M2340.2 427.6L2342.3 421.8M2347.7 427.6L2346.1 421.8M2347.7 427.6L2349.3 421.8M2354.1 427.6L2352.5 421.8M2354.1 427.6L2355.7 421.8M2360.4 427.6L2358.8 421.8M2360.4 427.6L2362.0 421.8M2366.8 427.6L2365.2 421.8M2366.8 427.6L2368.4 421.8M2373.2 427.6L2371.6 421.8M2373.2 427.6L2374.8 421.8M2379.6 427.6L2378.0 421.8M2379.6 427.6L2381.2 421.8M2385.9 427.6L2384.3 421.8M2385.9 427.6L2387.5 421.8M2392.3 427.6L2390.7 421.8M2392.3 427.6L2393.9 421.8M2399.8 427.6L2397.7 421.8M2399.8 427.6L2402.0 421.8M2408.4 427.6L2406.3 421.8M2408.4 427.6L2410.6 421.8M2417.1 427.6L2414.9 421.8M2417.1 427.6L2419.2 421.8M2425.7 427.6L2423.5 421.8M2425.7 427.6L2427.8 421.8M2433.8 427.6L2431.9 421.8M2433.8 427.6L2435.6 421.8M2441.2 427.6L2439.4 421.8M2441.2 427.6L2443.1 421.8M2448.8 427.6L2446.9 421.8M2448.8 427.6L2450.6 421.8M2456.2 427.6L2454.4 421.8M2456.2 427.6L2458.1 421.8M2462.4 427.6L2461.2 421.8M2462.4 427.6L2463.7 421.8M2467.4 427.6L2466.1 421.8M2467.4 427.6L2468.6 421.8M2472.2 427.6L2471.0 421.8M2472.2 427.6L2473.5 421.8M2477.1 427.6L2475.9 421.8M2477.1 427.6L2478.4 421.8M2483.7 427.6L2481.7 421.8M2483.7 427.6L2485.8 421.8M2492.0 427.6L2489.9 421.8M2492.0 427.6L2494.0 421.8M2500.2 427.6L2498.2 421.8M2500.2 427.6L2502.3 421.8M2508.5 427.6L2506.4 421.8M2508.5 427.6L2510.5 421.8M2519.3 427.6L2516.0 421.8M2519.3 427.6L2522.7 421.8M2532.8 427.6L2529.5 421.8M2532.8 427.6L2536.2 421.8M2546.3 427.6L2543.0 421.8M2546.3 427.6L2549.7 421.8M2559.8 427.6L2556.5 421.8M2559.8 427.6L2563.2 421.8M2571.5 427.6L2569.0 421.8M2571.5 427.6L2573.9 421.8M2581.2 427.6L2578.8 421.8M2581.2 427.6L2583.7 421.8M2591.0 427.6L2588.5 421.8M2591.0 427.6L2593.4 421.8M2600.7 427.6L2598.3 421.8M2600.7 427.6L2603.2 421.8M2611.2 427.6L2608.4 421.8M2611.2 427.6L2614.0 421.8M2622.5 427.6L2619.7 421.8M2622.5 427.6L2625.3 421.8M2633.7 427.6L2630.9 421.8M2633.7 427.6L2636.5 421.8M2645.0 427.6L2642.2 421.8M2645.0 427.6L2647.8 421.8M2656.4 427.6L2653.5 421.8M2656.4 427.6L2659.3 421.8M2668.0 427.6L2665.1 421.8M2668.0 427.6L2670.9 421.8M2679.6 427.6L2676.7 421.8M2679.6 427.6L2682.5 421.8M2691.2 427.6L2688.3 421.8M2691.2 427.6L2694.1 421.8M2701.7 427.6L2699.4 421.8M2701.7 427.6L2704.1 421.8M2711.1 427.6L2708.8 421.8M2711.1 427.6L2713.5 421.8M2720.6 427.6L2718.2 421.8M2720.6 427.6L2722.9 421.8M2730.0 427.6L2727.6 421.8M2730.0 427.6L2732.3 421.8M2739.6 427.6L2737.1 421.8M2739.6 427.6L2742.0 421.8M2749.3 427.6L2746.9 421.8M2749.3 427.6L2751.8 421.8M2759.1 427.6L2756.6 421.8M2759.1 427.6L2761.5 421.8M2768.8 427.6L2766.4 421.8M2768.8 427.6L2771.3 421.8M2777.4 427.6L2775.6 421.8M2777.4 427.6L2779.3 421.8M2784.9 427.6L2783.1 421.8M2784.9 427.6L2786.8 421.8M2792.4 427.6L2790.6 421.8M2792.4 427.6L2794.3 421.8M2799.9 427.6L2798.1 421.8M2799.9 427.6L2801.8 421.8M2806.1 427.6L2804.9 421.8M2806.1 427.6L2807.4 421.8M2811.0 427.6L2809.8 421.8M2811.0 427.6L2812.2 421.8M2815.9 427.6L2814.7 421.8M2815.9 427.6L2817.1 421.8M2820.8 427.6L2819.5 421.8M2820.8 427.6L2822.0 421.8M2823.4 427.6L2823.3 421.8M2823.4 427.6L2823.5 421.8M2823.8 427.6L2823.7 421.8M2823.8 427.6L2823.9 421.8M2301.2 421.8L2300.6 418.5M2301.2 421.8L2301.9 418.5M2303.8 421.8L2303.1 418.5M2303.8 421.8L2304.4 418.5M2306.2 421.8L2305.6 418.5M2306.2 421.8L2306.9 418.5M2308.8 421.8L2308.1 418.5M2308.8 421.8L2309.4 418.5M2312.2 421.8L2311.1 418.5M2312.2 421.8L2313.2 418.5M2316.5 421.8L2315.4 418.5M2316.5 421.8L2317.5 418.5M2320.8 421.8L2319.7 418.5M2320.8 421.8L2321.9 418.5M2325.1 421.8L2324.0 418.5M2325.1 421.8L2326.2 418.5M2329.4 421.8L2328.3 418.5M2329.4 421.8L2330.5 418.5M2333.7 421.8L2332.6 418.5M2333.7 421.8L2334.8 418.5M2338.0 421.8L2337.0 418.5M2338.0 421.8L2339.1 418.5M2342.3 421.8L2341.3 418.5M2342.3 421.8L2343.4 418.5M2346.1 421.8L2345.3 418.5M2346.1 421.8L2346.9 418.5M2349.3 421.8L2348.5 418.5M2349.3 421.8L2350.1 418.5M2352.5 421.8L2351.7 418.5M2352.5 421.8L2353.3 418.5M2355.7 421.8L2354.9 418.5M2355.7 421.8L2356.5 418.5M2358.8 421.8L2358.0 418.5M2358.8 421.8L2359.6 418.5M2362.0 421.8L2361.2 418.5M2362.0 421.8L2362.8 418.5M2365.2 421.8L2364.4 418.5M2365.2 421.8L2366.0 418.5M2368.4 421.8L2367.6 418.5M2368.4 421.8L2369.2 418.5M2371.6 421.8L2370.8 418.5M2371.6 421.8L2372.4 418.5M2374.8 421.8L2374.0 418.5M2374.8 421.8L2375.6 418.5M2378.0 421.8L2377.2 418.5M2378.0 421.8L2378.8 418.5M2381.2 421.8L2380.4 418.5M2381.2 421.8L2382.0 418.5M2384.3 421.8L2383.5 418.5M2384.3 421.8L2385.1 418.5M2387.5 421.8L2386.7 418.5M2387.5 421.8L2388.3 418.5M2390.7 421.8L2389.9 418.5M2390.7 421.8L2391.5 418.5M2393.9 421.8L2393.1 418.5M2393.9 421.8L2394.7 418.5M2397.7 421.8L2396.6 418.5M2397.7 421.8L2398.7 418.5M2402.0 421.8L2400.9 418.5M2402.0 421.8L2403.0 418.5M2406.3 421.8L2405.2 418.5M2406.3 421.8L2407.4 418.5M2410.6 421.8L2409.5 418.5M2410.6 421.8L2411.7 418.5M2414.9 421.8L2413.8 418.5M2414.9 421.8L2416.0 418.5M2419.2 421.8L2418.1 418.5M2419.2 421.8L2420.3 418.5M2423.5 421.8L2422.5 418.5M2423.5 421.8L2424.6 418.5M2427.8 421.8L2426.8 418.5M2427.8 421.8L2428.9 418.5M2431.9 421.8L2430.9 418.5M2431.9 421.8L2432.8 418.5M2435.6 421.8L2434.7 418.5M2435.6 421.8L2436.6 418.5M2439.4 421.8L2438.4 418.5M2439.4 421.8L2440.3 418.5M2443.1 421.8L2442.2 418.5M2443.1 421.8L2444.1 418.5M2446.9 421.8L2445.9 418.5M2446.9 421.8L2447.8 418.5M2450.6 421.8L2449.7 418.5M2450.6 421.8L2451.6 418.5M2454.4 421.8L2453.4 418.5M2454.4 421.8L2455.3 418.5M2458.1 421.8L2457.2 418.5M2458.1 421.8L2459.1 418.5M2461.2 421.8L2460.6 418.5M2461.2 421.8L2461.8 418.5M2463.7 421.8L2463.1 418.5M2463.7 421.8L2464.3 418.5M2466.1 421.8L2465.5 418.5M2466.1 421.8L2466.7 418.5M2468.6 421.8L2468.0 418.5M2468.6 421.8L2469.2 418.5M2471.0 421.8L2470.4 418.5M2471.0 421.8L2471.6 418.5M2473.5 421.8L2472.9 418.5M2473.5 421.8L2474.1 418.5M2475.9 421.8L2475.3 418.5M2475.9 421.8L2476.5 418.5M2478.4 421.8L2477.8 418.5M2478.4 421.8L2479.0 418.5M2481.7 421.8L2480.6 418.5M2481.7 421.8L2482.7 418.5M2485.8 421.8L2484.8 418.5M2485.8 421.8L2486.8 418.5M2489.9 421.8L2488.9 418.5M2489.9 421.8L2490.9 418.5M2494.0 421.8L2493.0 418.5M2494.0 421.8L2495.1 418.5M2498.2 421.8L2497.1 418.5M2498.2 421.8L2499.2 418.5M2502.3 421.8L2501.3 418.5M2502.3 421.8L2503.3 418.5M2506.4 421.8L2505.4 418.5M2506.4 421.8L2507.4 418.5M2510.5 421.8L2509.5 418.5M2510.5 421.8L2511.6 418.5M2516.0 421.8L2514.3 418.5M2516.0 421.8L2517.7 418.5M2522.7 421.8L2521.0 418.5M2522.7 421.8L2524.4 418.5M2529.5 421.8L2527.8 418.5M2529.5 421.8L2531.2 418.5M2536.2 421.8L2534.5 418.5M2536.2 421.8L2537.9 418.5M2543.0 421.8L2541.3 418.5M2543.0 421.8L2544.7 418.5M2549.7 421.8L2548.0 418.5M2549.7 421.8L2551.4 418.5M2556.5 421.8L2554.8 418.5M2556.5 421.8L2558.2 418.5M2563.2 421.8L2561.5 418.5M2563.2 421.8L2564.9 418.5M2569.0 421.8L2567.8 418.5M2569.0 421.8L2570.3 418.5M2573.9 421.8L2572.7 418.5M2573.9 421.8L2575.1 418.5M2578.8 421.8L2577.6 418.5M2578.8 421.8L2580.0 418.5M2583.7 421.8L2582.4 418.5M2583.7 421.8L2584.9 418.5M2588.5 421.8L2587.3 418.5M2588.5 421.8L2589.8 418.5M2593.4 421.8L2592.2 418.5M2593.4 421.8L2594.6 418.5M2598.3 421.8L2597.1 418.5M2598.3 421.8L2599.5 418.5M2603.2 421.8L2601.9 418.5M2603.2 421.8L2604.4 418.5M2608.4 421.8L2607.0 418.5M2608.4 421.8L2609.8 418.5M2614.0 421.8L2612.6 418.5M2614.0 421.8L2615.4 418.5M2619.7 421.8L2618.3 418.5M2619.7 421.8L2621.1 418.5M2625.3 421.8L2623.9 418.5M2625.3 421.8L2626.7 418.5M2630.9 421.8L2629.5 418.5M2630.9 421.8L2632.3 418.5M2636.5 421.8L2635.1 418.5M2636.5 421.8L2637.9 418.5M2642.2 421.8L2640.8 418.5M2642.2 421.8L2643.6 418.5M2647.8 421.8L2646.4 418.5M2647.8 421.8L2649.2 418.5M2653.5 421.8L2652.0 418.5M2653.5 421.8L2654.9 418.5M2659.3 421.8L2657.8 418.5M2659.3 421.8L2660.7 418.5M2665.1 421.8L2663.7 418.5M2665.1 421.8L2666.5 418.5M2670.9 421.8L2669.5 418.5M2670.9 421.8L2672.3 418.5M2676.7 421.8L2675.3 418.5M2676.7 421.8L2678.2 418.5M2682.5 421.8L2681.1 418.5M2682.5 421.8L2684.0 418.5M2688.3 421.8L2686.8 418.5M2688.3 421.8L2689.7 418.5M2694.1 421.8L2692.7 418.5M2694.1 421.8L2695.5 418.5M2699.4 421.8L2698.2 418.5M2699.4 421.8L2700.5 418.5M2704.1 421.8L2702.9 418.5M2704.1 421.8L2705.2 418.5M2708.8 421.8L2707.6 418.5M2708.8 421.8L2710.0 418.5M2713.5 421.8L2712.3 418.5M2713.5 421.8L2714.7 418.5M2718.2 421.8L2717.0 418.5M2718.2 421.8L2719.4 418.5M2722.9 421.8L2721.7 418.5M2722.9 421.8L2724.1 418.5M2727.6 421.8L2726.5 418.5M2727.6 421.8L2728.8 418.5M2732.3 421.8L2731.2 418.5M2732.3 421.8L2733.5 418.5M2737.1 421.8L2735.9 418.5M2737.1 421.8L2738.4 418.5M2742.0 421.8L2740.8 418.5M2742.0 421.8L2743.2 418.5M2746.9 421.8L2745.7 418.5M2746.9 421.8L2748.1 418.5M2751.8 421.8L2750.5 418.5M2751.8 421.8L2753.0 418.5M2756.6 421.8L2755.4 418.5M2756.6 421.8L2757.9 418.5M2761.5 421.8L2760.3 418.5M2761.5 421.8L2762.7 418.5M2766.4 421.8L2765.2 418.5M2766.4 421.8L2767.6 418.5M2771.3 421.8L2770.0 418.5M2771.3 421.8L2772.5 418.5M2775.6 421.8L2774.6 418.5M2775.6 421.8L2776.5 418.5M2779.3 421.8L2778.4 418.5M2779.3 421.8L2780.3 418.5M2783.1 421.8L2782.1 418.5M2783.1 421.8L2784.0 418.5M2786.8 421.8L2785.9 418.5M2786.8 421.8L2787.8 418.5M2790.6 421.8L2789.6 418.5M2790.6 421.8L2791.5 418.5M2794.3 421.8L2793.4 418.5M2794.3 421.8L2795.3 418.5M2798.1 421.8L2797.1 418.5M2798.1 421.8L2799.0 418.5M2801.8 421.8L2800.9 418.5M2801.8 421.8L2802.8 418.5M2804.9 421.8L2804.3 418.5M2804.9 421.8L2805.5 418.5M2807.4 421.8L2806.7 418.5M2807.4 421.8L2808.0 418.5M2809.8 421.8L2809.2 418.5M2809.8 421.8L2810.4 418.5M2812.2 421.8L2811.6 418.5M2812.2 421.8L2812.8 418.5M2814.7 421.8L2814.1 418.5M2814.7 421.8L2815.3 418.5M2817.1 421.8L2816.5 418.5M2817.1 421.8L2817.7 418.5M2819.5 421.8L2818.9 418.5M2819.5 421.8L2820.2 418.5M2822.0 421.8L2821.4 418.5M2822.0 421.8L2822.6 418.5M2823.3 421.8L2823.2 418.5M2823.3 421.8L2823.3 418.5M2823.5 421.8L2823.4 418.5M2823.5 421.8L2823.5 418.5M2823.7 421.8L2823.7 418.5M2823.7 421.8L2823.8 418.5M2823.9 421.8L2823.8 418.5M2823.9 421.8L2824.0 418.5" stroke="#d9473c" stroke-width="1.15" fill="none"/>
<path d="M2556.4 554.8h2.4v2.4h-2.4zM2412.4 518.2h2.4v2.4h-2.4zM2705.0 518.2h2.4v2.4h-2.4zM2355.3 488.2h2.4v2.4h-2.4zM2470.8 488.2h2.4v2.4h-2.4zM2629.3 488.2h2.4v2.4h-2.4zM2783.0 488.2h2.4v2.4h-2.4zM2326.8 466.3h2.4v2.4h-2.4zM2382.3 466.3h2.4v2.4h-2.4zM2447.5 466.3h2.4v2.4h-2.4zM2495.5 466.3h2.4v2.4h-2.4zM2584.8 466.3h2.4v2.4h-2.4zM2670.5 466.3h2.4v2.4h-2.4zM2755.4 466.3h2.4v2.4h-2.4zM2812.4 466.3h2.4v2.4h-2.4zM2308.8 448.3h2.4v2.4h-2.4zM2343.3 448.3h2.4v2.4h-2.4zM2368.8 448.3h2.4v2.4h-2.4zM2394.3 448.3h2.4v2.4h-2.4zM2428.8 448.3h2.4v2.4h-2.4zM2458.8 448.3h2.4v2.4h-2.4zM2478.4 448.3h2.4v2.4h-2.4zM2511.4 448.3h2.4v2.4h-2.4zM2565.4 448.3h2.4v2.4h-2.4zM2604.4 448.3h2.4v2.4h-2.4zM2649.4 448.3h2.4v2.4h-2.4zM2695.8 448.3h2.4v2.4h-2.4zM2733.5 448.3h2.4v2.4h-2.4zM2772.5 448.3h2.4v2.4h-2.4zM2802.5 448.3h2.4v2.4h-2.4zM2822.0 448.3h2.4v2.4h-2.4zM2303.8 435.2h2.4v2.4h-2.4zM2317.4 435.2h2.4v2.4h-2.4zM2334.7 435.2h2.4v2.4h-2.4zM2349.7 435.2h2.4v2.4h-2.4zM2362.4 435.2h2.4v2.4h-2.4zM2375.2 435.2h2.4v2.4h-2.4zM2387.9 435.2h2.4v2.4h-2.4zM2402.9 435.2h2.4v2.4h-2.4zM2420.2 435.2h2.4v2.4h-2.4zM2436.3 435.2h2.4v2.4h-2.4zM2451.3 435.2h2.4v2.4h-2.4zM2463.7 435.2h2.4v2.4h-2.4zM2473.5 435.2h2.4v2.4h-2.4zM2486.7 435.2h2.4v2.4h-2.4zM2503.2 435.2h2.4v2.4h-2.4zM2524.9 435.2h2.4v2.4h-2.4zM2551.9 435.2h2.4v2.4h-2.4zM2575.2 435.2h2.4v2.4h-2.4zM2594.7 435.2h2.4v2.4h-2.4zM2615.7 435.2h2.4v2.4h-2.4zM2638.2 435.2h2.4v2.4h-2.4zM2661.0 435.2h2.4v2.4h-2.4zM2684.2 435.2h2.4v2.4h-2.4zM2705.2 435.2h2.4v2.4h-2.4zM2724.1 435.2h2.4v2.4h-2.4zM2743.2 435.2h2.4v2.4h-2.4zM2762.8 435.2h2.4v2.4h-2.4zM2780.0 435.2h2.4v2.4h-2.4zM2795.0 435.2h2.4v2.4h-2.4zM2807.4 435.2h2.4v2.4h-2.4zM2817.1 435.2h2.4v2.4h-2.4zM2822.4 435.2h2.4v2.4h-2.4zM2301.7 426.8h1.6v1.6h-1.6zM2306.7 426.8h1.6v1.6h-1.6zM2313.5 426.8h1.6v1.6h-1.6zM2322.1 426.8h1.6v1.6h-1.6zM2330.8 426.8h1.6v1.6h-1.6zM2339.4 426.8h1.6v1.6h-1.6zM2346.9 426.8h1.6v1.6h-1.6zM2353.3 426.8h1.6v1.6h-1.6zM2359.6 426.8h1.6v1.6h-1.6zM2366.0 426.8h1.6v1.6h-1.6zM2372.4 426.8h1.6v1.6h-1.6zM2378.8 426.8h1.6v1.6h-1.6zM2385.1 426.8h1.6v1.6h-1.6zM2391.5 426.8h1.6v1.6h-1.6zM2399.0 426.8h1.6v1.6h-1.6zM2407.6 426.8h1.6v1.6h-1.6zM2416.3 426.8h1.6v1.6h-1.6zM2424.9 426.8h1.6v1.6h-1.6zM2432.9 426.8h1.6v1.6h-1.6zM2440.4 426.8h1.6v1.6h-1.6zM2447.9 426.8h1.6v1.6h-1.6zM2455.4 426.8h1.6v1.6h-1.6zM2461.6 426.8h1.6v1.6h-1.6zM2466.6 426.8h1.6v1.6h-1.6zM2471.4 426.8h1.6v1.6h-1.6zM2476.3 426.8h1.6v1.6h-1.6zM2482.9 426.8h1.6v1.6h-1.6zM2491.2 426.8h1.6v1.6h-1.6zM2499.4 426.8h1.6v1.6h-1.6zM2507.7 426.8h1.6v1.6h-1.6zM2518.5 426.8h1.6v1.6h-1.6zM2532.0 426.8h1.6v1.6h-1.6zM2545.5 426.8h1.6v1.6h-1.6zM2559.0 426.8h1.6v1.6h-1.6zM2570.7 426.8h1.6v1.6h-1.6zM2580.4 426.8h1.6v1.6h-1.6zM2590.2 426.8h1.6v1.6h-1.6zM2599.9 426.8h1.6v1.6h-1.6zM2610.4 426.8h1.6v1.6h-1.6zM2621.7 426.8h1.6v1.6h-1.6zM2632.9 426.8h1.6v1.6h-1.6zM2644.2 426.8h1.6v1.6h-1.6zM2655.6 426.8h1.6v1.6h-1.6zM2667.2 426.8h1.6v1.6h-1.6zM2678.8 426.8h1.6v1.6h-1.6zM2690.4 426.8h1.6v1.6h-1.6zM2700.9 426.8h1.6v1.6h-1.6zM2710.3 426.8h1.6v1.6h-1.6zM2719.8 426.8h1.6v1.6h-1.6zM2729.2 426.8h1.6v1.6h-1.6zM2738.8 426.8h1.6v1.6h-1.6zM2748.5 426.8h1.6v1.6h-1.6zM2758.3 426.8h1.6v1.6h-1.6zM2768.0 426.8h1.6v1.6h-1.6zM2776.6 426.8h1.6v1.6h-1.6zM2784.1 426.8h1.6v1.6h-1.6zM2791.6 426.8h1.6v1.6h-1.6zM2799.1 426.8h1.6v1.6h-1.6zM2805.3 426.8h1.6v1.6h-1.6zM2810.2 426.8h1.6v1.6h-1.6zM2815.1 426.8h1.6v1.6h-1.6zM2820.0 426.8h1.6v1.6h-1.6zM2822.6 426.8h1.6v1.6h-1.6zM2823.0 426.8h1.6v1.6h-1.6zM2300.4 421.0h1.6v1.6h-1.6zM2302.9 421.0h1.6v1.6h-1.6zM2305.4 421.0h1.6v1.6h-1.6zM2307.9 421.0h1.6v1.6h-1.6zM2311.4 421.0h1.6v1.6h-1.6zM2315.7 421.0h1.6v1.6h-1.6zM2320.0 421.0h1.6v1.6h-1.6zM2324.3 421.0h1.6v1.6h-1.6zM2328.6 421.0h1.6v1.6h-1.6zM2332.9 421.0h1.6v1.6h-1.6zM2337.2 421.0h1.6v1.6h-1.6zM2341.5 421.0h1.6v1.6h-1.6zM2345.3 421.0h1.6v1.6h-1.6zM2348.5 421.0h1.6v1.6h-1.6zM2351.7 421.0h1.6v1.6h-1.6zM2354.9 421.0h1.6v1.6h-1.6zM2358.0 421.0h1.6v1.6h-1.6zM2361.2 421.0h1.6v1.6h-1.6zM2364.4 421.0h1.6v1.6h-1.6zM2367.6 421.0h1.6v1.6h-1.6zM2370.8 421.0h1.6v1.6h-1.6zM2374.0 421.0h1.6v1.6h-1.6zM2377.2 421.0h1.6v1.6h-1.6zM2380.4 421.0h1.6v1.6h-1.6zM2383.5 421.0h1.6v1.6h-1.6zM2386.7 421.0h1.6v1.6h-1.6zM2389.9 421.0h1.6v1.6h-1.6zM2393.1 421.0h1.6v1.6h-1.6zM2396.9 421.0h1.6v1.6h-1.6zM2401.2 421.0h1.6v1.6h-1.6zM2405.5 421.0h1.6v1.6h-1.6zM2409.8 421.0h1.6v1.6h-1.6zM2414.1 421.0h1.6v1.6h-1.6zM2418.4 421.0h1.6v1.6h-1.6zM2422.7 421.0h1.6v1.6h-1.6zM2427.0 421.0h1.6v1.6h-1.6zM2431.1 421.0h1.6v1.6h-1.6zM2434.8 421.0h1.6v1.6h-1.6zM2438.6 421.0h1.6v1.6h-1.6zM2442.3 421.0h1.6v1.6h-1.6zM2446.1 421.0h1.6v1.6h-1.6zM2449.8 421.0h1.6v1.6h-1.6zM2453.6 421.0h1.6v1.6h-1.6zM2457.3 421.0h1.6v1.6h-1.6zM2460.4 421.0h1.6v1.6h-1.6zM2462.9 421.0h1.6v1.6h-1.6zM2465.3 421.0h1.6v1.6h-1.6zM2467.8 421.0h1.6v1.6h-1.6zM2470.2 421.0h1.6v1.6h-1.6zM2472.7 421.0h1.6v1.6h-1.6zM2475.1 421.0h1.6v1.6h-1.6zM2477.6 421.0h1.6v1.6h-1.6zM2480.9 421.0h1.6v1.6h-1.6zM2485.0 421.0h1.6v1.6h-1.6zM2489.1 421.0h1.6v1.6h-1.6zM2493.2 421.0h1.6v1.6h-1.6zM2497.4 421.0h1.6v1.6h-1.6zM2501.5 421.0h1.6v1.6h-1.6zM2505.6 421.0h1.6v1.6h-1.6zM2509.7 421.0h1.6v1.6h-1.6zM2515.2 421.0h1.6v1.6h-1.6zM2521.9 421.0h1.6v1.6h-1.6zM2528.7 421.0h1.6v1.6h-1.6zM2535.4 421.0h1.6v1.6h-1.6zM2542.2 421.0h1.6v1.6h-1.6zM2548.9 421.0h1.6v1.6h-1.6zM2555.7 421.0h1.6v1.6h-1.6zM2562.4 421.0h1.6v1.6h-1.6zM2568.2 421.0h1.6v1.6h-1.6zM2573.1 421.0h1.6v1.6h-1.6zM2578.0 421.0h1.6v1.6h-1.6zM2582.9 421.0h1.6v1.6h-1.6zM2587.7 421.0h1.6v1.6h-1.6zM2592.6 421.0h1.6v1.6h-1.6zM2597.5 421.0h1.6v1.6h-1.6zM2602.4 421.0h1.6v1.6h-1.6zM2607.6 421.0h1.6v1.6h-1.6zM2613.2 421.0h1.6v1.6h-1.6zM2618.9 421.0h1.6v1.6h-1.6zM2624.5 421.0h1.6v1.6h-1.6zM2630.1 421.0h1.6v1.6h-1.6zM2635.7 421.0h1.6v1.6h-1.6zM2641.4 421.0h1.6v1.6h-1.6zM2647.0 421.0h1.6v1.6h-1.6zM2652.7 421.0h1.6v1.6h-1.6zM2658.5 421.0h1.6v1.6h-1.6zM2664.3 421.0h1.6v1.6h-1.6zM2670.1 421.0h1.6v1.6h-1.6zM2675.9 421.0h1.6v1.6h-1.6zM2681.7 421.0h1.6v1.6h-1.6zM2687.5 421.0h1.6v1.6h-1.6zM2693.3 421.0h1.6v1.6h-1.6zM2698.6 421.0h1.6v1.6h-1.6zM2703.3 421.0h1.6v1.6h-1.6zM2708.0 421.0h1.6v1.6h-1.6zM2712.7 421.0h1.6v1.6h-1.6zM2717.4 421.0h1.6v1.6h-1.6zM2722.1 421.0h1.6v1.6h-1.6zM2726.8 421.0h1.6v1.6h-1.6zM2731.5 421.0h1.6v1.6h-1.6zM2736.3 421.0h1.6v1.6h-1.6zM2741.2 421.0h1.6v1.6h-1.6zM2746.1 421.0h1.6v1.6h-1.6zM2751.0 421.0h1.6v1.6h-1.6zM2755.8 421.0h1.6v1.6h-1.6zM2760.7 421.0h1.6v1.6h-1.6zM2765.6 421.0h1.6v1.6h-1.6zM2770.5 421.0h1.6v1.6h-1.6zM2774.8 421.0h1.6v1.6h-1.6zM2778.5 421.0h1.6v1.6h-1.6zM2782.3 421.0h1.6v1.6h-1.6zM2786.0 421.0h1.6v1.6h-1.6zM2789.8 421.0h1.6v1.6h-1.6zM2793.5 421.0h1.6v1.6h-1.6zM2797.3 421.0h1.6v1.6h-1.6zM2801.0 421.0h1.6v1.6h-1.6zM2804.1 421.0h1.6v1.6h-1.6zM2806.6 421.0h1.6v1.6h-1.6zM2809.0 421.0h1.6v1.6h-1.6zM2811.4 421.0h1.6v1.6h-1.6zM2813.9 421.0h1.6v1.6h-1.6zM2816.3 421.0h1.6v1.6h-1.6zM2818.7 421.0h1.6v1.6h-1.6zM2821.2 421.0h1.6v1.6h-1.6zM2822.5 421.0h1.6v1.6h-1.6zM2822.7 421.0h1.6v1.6h-1.6zM2822.9 421.0h1.6v1.6h-1.6zM2823.1 421.0h1.6v1.6h-1.6z" fill="#d9473c"/>
<rect x="2300.0" y="416.0" width="524.0" height="3.3" fill="#d9473c"/>
</g>
<rect x="2753.4" y="312" width="2.2" height="11" fill="#222"/>
<rect x="2808.7" y="312" width="2.2" height="11" fill="#888"/>
<rect x="1900.6" y="407.8" width="2.2" height="11" fill="#222"/>
<rect x="2755" y="404" width="2.2" height="12" fill="#888"/>
<path d="M1959 387 C2080 385.5 2180 383 2237 377" stroke="#111" stroke-width="2.6" fill="none"/>
<path d="M2372 348.4 C2440 335 2540 337.5 2666 338" stroke="#111" stroke-width="2.6" fill="none"/>
<path d="M2664.7 326.7 L2685.6 338.3 L2664.7 350 Z" fill="#111"/>
<text x="2243.83" y="96.80" font-size="30" fill="#111" textLength="129.20" lengthAdjust="spacingAndGlyphs" stroke="#111" stroke-width="0.55">GM12878</text>
<text x="1980.65" y="121.40" font-size="30" fill="#3b3b98" textLength="198.87" lengthAdjust="spacingAndGlyphs" stroke="#3b3b98" stroke-width="0.55">B compartment</text>
<text x="2459.00" y="119.70" font-size="30" fill="#d3302a" textLength="196.27" lengthAdjust="spacingAndGlyphs" stroke="#d3302a" stroke-width="0.55">A compartment</text>
<text x="2015.03" y="177.40" font-size="30" fill="#3b3b98" textLength="44.39" lengthAdjust="spacingAndGlyphs" stroke="#3b3b98" stroke-width="0.55">B.2</text>
<text x="2171.12" y="177.40" font-size="30" fill="#3b3b98" textLength="42.24" lengthAdjust="spacingAndGlyphs" stroke="#3b3b98" stroke-width="0.55">B.1</text>
<text x="2427.00" y="175.00" font-size="30" fill="#d3302a" textLength="43.39" lengthAdjust="spacingAndGlyphs" stroke="#d3302a" stroke-width="0.55">A.2</text>
<text x="2578.00" y="175.00" font-size="30" fill="#d3302a" textLength="40.43" lengthAdjust="spacingAndGlyphs" stroke="#d3302a" stroke-width="0.55">A.1</text>
<text x="1887.04" y="220.90" font-size="30" fill="#3b3b98" textLength="69.00" lengthAdjust="spacingAndGlyphs" stroke="#3b3b98" stroke-width="0.55">B.2.2</text>
<text x="2041.13" y="220.90" font-size="30" fill="#3b3b98" textLength="65.46" lengthAdjust="spacingAndGlyphs" stroke="#3b3b98" stroke-width="0.55">B.2.1</text>
<text x="2119.67" y="220.90" font-size="30" fill="#3b3b98" textLength="68.26" lengthAdjust="spacingAndGlyphs" stroke="#3b3b98" stroke-width="0.55">B.1.2</text>
<text x="2227.32" y="210.30" font-size="30" fill="#3b3b98" textLength="66.45" lengthAdjust="spacingAndGlyphs" stroke="#3b3b98" stroke-width="0.55">B.1.1</text>
<text x="2316.21" y="210.30" font-size="30" fill="#d3302a" textLength="68.41" lengthAdjust="spacingAndGlyphs" stroke="#d3302a" stroke-width="0.55">A.2.2</text>
<text x="2433.57" y="217.90" font-size="30" fill="#d3302a" textLength="63.67" lengthAdjust="spacingAndGlyphs" stroke="#d3302a" stroke-width="0.55">A.2.1</text>
<text x="2535.39" y="217.20" font-size="30" fill="#d3302a" textLength="67.32" lengthAdjust="spacingAndGlyphs" stroke="#d3302a" stroke-width="0.55">A.1.2</text>
<text x="2697.00" y="217.40" font-size="30" fill="#d3302a" textLength="65.49" lengthAdjust="spacingAndGlyphs" stroke="#d3302a" stroke-width="0.55">A.1.1</text>
<text x="2692.04" y="348.30" font-size="30" fill="#111" textLength="75.07" lengthAdjust="spacingAndGlyphs" font-style="italic" stroke="#111" stroke-width="0.45">CD20</text>
<text x="2783.01" y="348.30" font-size="30" fill="#8a8a8a" textLength="83.07" lengthAdjust="spacingAndGlyphs" font-style="italic" stroke="#8a8a8a" stroke-width="0.45">OSBP</text>
<text x="2064.25" y="371.50" font-size="30.5" fill="#111" textLength="501.50" lengthAdjust="spacingAndGlyphs" font-weight="bold">Compartment Domain repositioning</text>
<text x="1864.06" y="396.90" font-size="30" fill="#111" textLength="74.45" lengthAdjust="spacingAndGlyphs" font-style="italic" stroke="#111" stroke-width="0.45">CD20</text>
<text x="2711.24" y="397.40" font-size="30" fill="#8a8a8a" textLength="81.24" lengthAdjust="spacingAndGlyphs" font-style="italic" stroke="#8a8a8a" stroke-width="0.45">OSBP</text>
<text x="2258.65" y="640.50" font-size="30" fill="#111" textLength="86.70" lengthAdjust="spacingAndGlyphs" stroke="#111" stroke-width="0.55">IMR90</text>
<circle cx="211.2" cy="792.3" r="6.9" fill="#000"/>
<circle cx="1884.2" cy="792.3" r="6.9" fill="#000"/>
<text x="272.76" y="811.00" font-size="47" fill="#000" textLength="1213.65" lengthAdjust="spacingAndGlyphs" stroke="#000" stroke-width="0.7">Connect compartments with epigenetic/chromhmm states</text>
<text x="1945.29" y="810.50" font-size="47" fill="#000" textLength="916.45" lengthAdjust="spacingAndGlyphs" stroke="#000" stroke-width="0.7">Identify compartment repositionning events</text>
</svg></body></html>
